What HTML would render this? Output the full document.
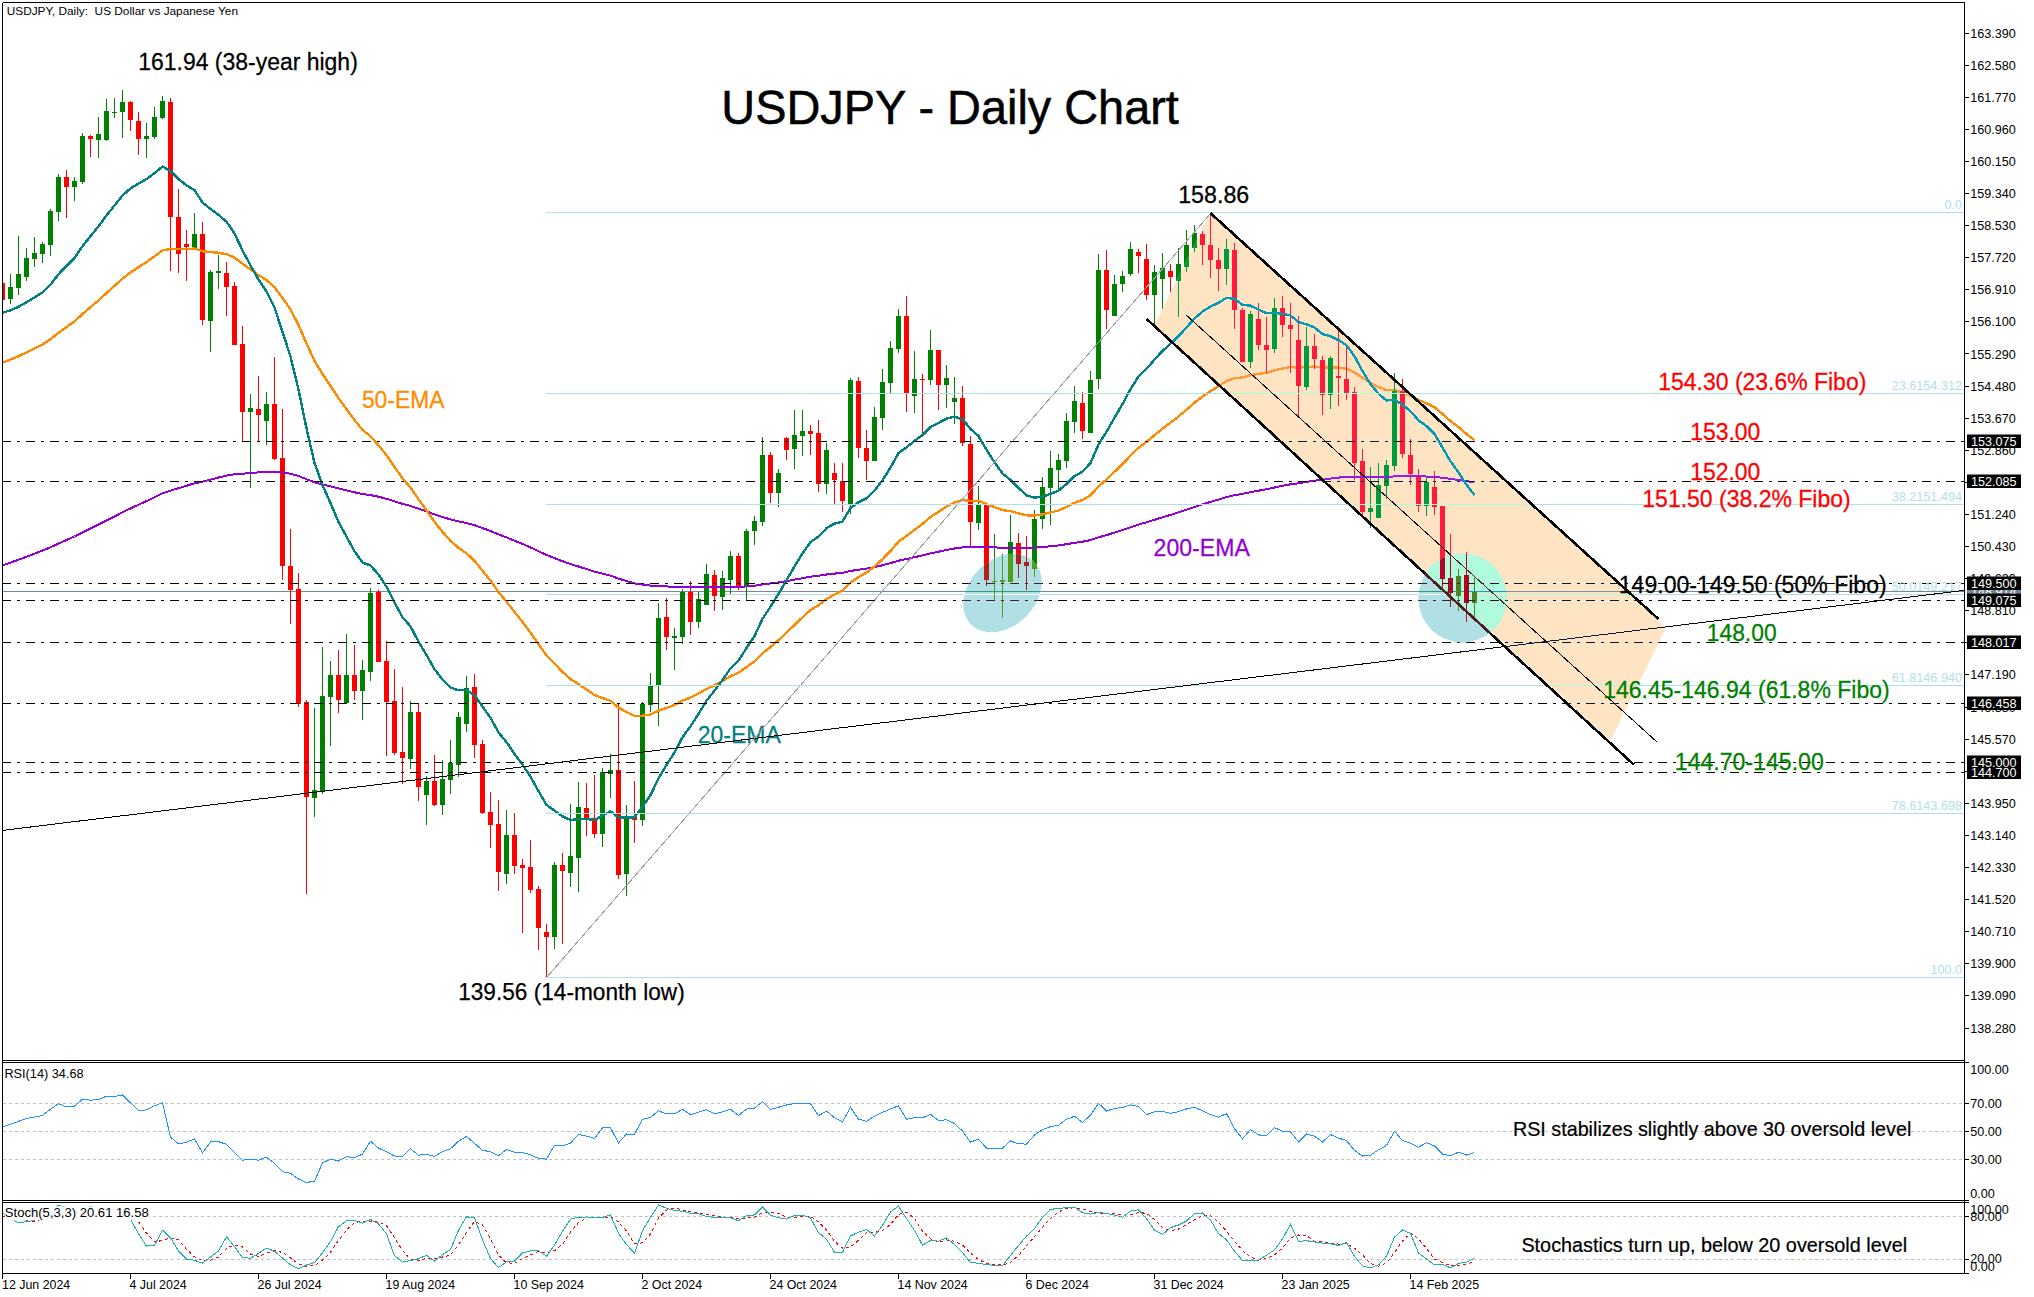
<!DOCTYPE html>
<html><head><meta charset="utf-8"><title>USDJPY - Daily Chart</title>
<style>html,body{margin:0;padding:0;background:#fff}svg{display:block}</style></head>
<body>
<svg width="2034" height="1297" viewBox="0 0 2034 1297" font-family="'Liberation Sans', sans-serif">
<defs>
<clipPath id="cpMain"><rect x="3" y="3" width="1961" height="1057"/></clipPath>
<clipPath id="cpCh"><polygon points="1210.3,213.0 1666.0,627.8 1610.5,740.5 1154.2,325.5"/></clipPath>
<clipPath id="cpE1"><ellipse cx="1002.5" cy="593.0" rx="44.4" ry="33.4" transform="rotate(-45 1002.5 593.0)"/></clipPath>
<clipPath id="cpE2"><ellipse cx="1462.5" cy="598.0" rx="44.2" ry="44.4" transform="rotate(0 1462.5 598.0)"/></clipPath>
<clipPath id="cpRsi"><rect x="3" y="1063" width="1961" height="137"/></clipPath>
<clipPath id="cpSt"><rect x="3" y="1203" width="1961" height="70"/></clipPath>
</defs>
<rect width="2034" height="1297" fill="#fff"/>
<g clip-path="url(#cpMain)">
<line x1="546" y1="594.5" x2="1964" y2="594.5" stroke="#b0e0e6" stroke-width="1" shape-rendering="crispEdges"/>
<line x1="3" y1="591.5" x2="1964" y2="591.5" stroke="#778899" stroke-width="1" shape-rendering="crispEdges"/>
<g shape-rendering="crispEdges">
<path d="M2.5 280 V303 M66.5 170 V218 M90.5 135 V157 M130.5 101 V131 M138.5 112 V155 M170.5 98 V271 M178.5 189 V273 M186.5 230 V281 M202.5 222 V325 M226.5 262 V316 M234.5 282 V345 M242.5 326 V441 M258.5 376 V441 M274.5 357 V460 M282.5 409 V580 M290.5 529 V624 M298.5 573 V707 M306.5 700 V894 M338.5 650 V713 M354.5 645 V700 M378.5 590 V662 M386.5 641 V756 M394.5 669 V755 M402.5 687 V784 M418.5 703 V801 M434.5 755 V806 M474.5 674 V758 M482.5 740 V814 M490.5 792 V848 M498.5 800 V891 M514.5 813 V874 M522.5 859 V933 M530.5 840 V893 M538.5 886 V950 M546.5 924 V977 M562.5 853 V944 M586.5 783 V836 M594.5 775 V838 M618.5 703 V879 M634.5 781 V843 M666.5 598 V650 M690.5 581 V635 M714.5 570 V611 M738.5 553 V590 M770.5 452 V503 M786.5 437 V460 M810.5 425 V455 M818.5 420 V492 M834.5 463 V504 M842.5 463 V512 M858.5 377 V458 M866.5 430 V480 M906.5 296 V412 M922.5 374 V434 M938.5 350 V410 M962.5 386 V446 M970.5 436 V546 M986.5 503 V586 M1018.5 533 V578 M1026.5 536 V590 M1082.5 392 V439 M1106.5 250 V329 M1138.5 249 V273 M1146.5 244 V300 M1170.5 264 V292 M1202.5 231 V265 M1210.5 213 V278 M1218.5 248 V291 M1234.5 243 V329 M1242.5 308 V362 M1258.5 303 V350 M1266.5 317 V373 M1282.5 296 V337 M1290.5 303 V373 M1298.5 316 V417 M1314.5 334 V369 M1322.5 356 V415 M1338.5 329 V406 M1346.5 346 V400 M1354.5 387 V480 M1362.5 449 V516 M1402.5 379 V458 M1410.5 439 V485 M1418.5 469 V512 M1434.5 471 V515 M1442.5 506 V590 M1450.5 534 V607 M1466.5 552 V622" stroke="#ff0000" stroke-width="1" fill="none"/>
<path d="M10.5 274 V304 M18.5 236 V295 M26.5 248 V281 M34.5 237 V267 M42.5 242 V263 M50.5 209 V256 M58.5 174 V221 M74.5 177 V201 M82.5 133 V184 M98.5 117 V158 M106.5 99 V141 M114.5 98 V118 M122.5 90 V138 M146.5 123 V158 M154.5 107 V139 M162.5 96 V119 M194.5 213 V248 M210.5 270 V352 M218.5 255 V289 M250.5 394 V488 M266.5 392 V445 M314.5 708 V817 M322.5 647 V794 M330.5 661 V746 M346.5 634 V703 M362.5 660 V720 M370.5 588 V681 M410.5 701 V769 M426.5 776 V825 M442.5 760 V815 M450.5 740 V794 M458.5 712 V777 M466.5 676 V732 M506.5 810 V884 M554.5 862 V949 M570.5 804 V887 M578.5 782 V892 M602.5 768 V847 M610.5 754 V798 M626.5 805 V896 M642.5 702 V826 M650.5 673 V712 M658.5 603 V726 M674.5 628 V670 M682.5 589 V644 M698.5 592 V628 M706.5 564 V605 M722.5 571 V610 M730.5 551 V594 M746.5 529 V601 M754.5 516 V545 M762.5 437 V526 M778.5 469 V507 M794.5 410 V469 M802.5 410 V456 M826.5 443 V494 M850.5 378 V514 M874.5 407 V461 M882.5 369 V430 M890.5 341 V393 M898.5 309 V353 M914.5 351 V413 M930.5 330 V385 M946.5 365 V408 M954.5 377 V424 M978.5 486 V530 M994.5 534 V601 M1002.5 554 V618 M1010.5 515 V582 M1034.5 510 V577 M1042.5 477 V529 M1050.5 451 V525 M1058.5 454 V491 M1066.5 413 V468 M1074.5 386 V433 M1090.5 371 V433 M1098.5 254 V389 M1114.5 275 V316 M1122.5 271 V292 M1130.5 242 V276 M1154.5 265 V324 M1162.5 253 V309 M1178.5 248 V317 M1186.5 230 V272 M1194.5 225 V252 M1226.5 239 V285 M1250.5 311 V368 M1274.5 298 V353 M1306.5 327 V390 M1330.5 356 V409 M1370.5 467 V528 M1378.5 463 V518 M1386.5 460 V499 M1394.5 373 V471 M1426.5 477 V516 M1458.5 569 V611 M1474.5 578 V618" stroke="#008000" stroke-width="1" fill="none"/>
<path d="M0.0 283 h5 V300 h-5 Z M64.0 177 h5 V187 h-5 Z M88.0 136 h5 V139 h-5 Z M128.0 102 h5 V120 h-5 Z M136.0 121 h5 V139 h-5 Z M168.0 102 h5 V217 h-5 Z M176.0 217 h5 V254 h-5 Z M184.0 244 h5 V247 h-5 Z M200.0 234 h5 V320 h-5 Z M224.0 273 h5 V287 h-5 Z M232.0 286 h5 V345 h-5 Z M240.0 344 h5 V412 h-5 Z M256.0 409 h5 V415 h-5 Z M272.0 404 h5 V459 h-5 Z M280.0 458 h5 V566 h-5 Z M288.0 566 h5 V590 h-5 Z M296.0 589 h5 V704 h-5 Z M304.0 702 h5 V797 h-5 Z M336.0 675 h5 V700 h-5 Z M352.0 675 h5 V691 h-5 Z M376.0 592 h5 V662 h-5 Z M384.0 661 h5 V702 h-5 Z M392.0 701 h5 V753 h-5 Z M400.0 752 h5 V758 h-5 Z M416.0 712 h5 V787 h-5 Z M432.0 781 h5 V805 h-5 Z M472.0 687 h5 V745 h-5 Z M480.0 744 h5 V813 h-5 Z M488.0 812 h5 V825 h-5 Z M496.0 824 h5 V872 h-5 Z M512.0 835 h5 V866 h-5 Z M520.0 865 h5 V868 h-5 Z M528.0 867 h5 V890 h-5 Z M536.0 889 h5 V928 h-5 Z M544.0 932 h5 V937 h-5 Z M560.0 865 h5 V871 h-5 Z M584.0 808 h5 V819 h-5 Z M592.0 818 h5 V834 h-5 Z M616.0 770 h5 V875 h-5 Z M632.0 816 h5 V820 h-5 Z M664.0 617 h5 V637 h-5 Z M688.0 592 h5 V622 h-5 Z M712.0 575 h5 V596 h-5 Z M736.0 556 h5 V587 h-5 Z M768.0 455 h5 V493 h-5 Z M784.0 438 h5 V450 h-5 Z M808.0 431 h5 V434 h-5 Z M816.0 433 h5 V484 h-5 Z M832.0 473 h5 V480 h-5 Z M840.0 481 h5 V501 h-5 Z M856.0 381 h5 V448 h-5 Z M864.0 448 h5 V461 h-5 Z M904.0 316 h5 V393 h-5 Z M920.0 379 h5 V380 h-5 Z M936.0 350 h5 V385 h-5 Z M960.0 398 h5 V443 h-5 Z M968.0 444 h5 V522 h-5 Z M984.0 504 h5 V580 h-5 Z M1016.0 543 h5 V564 h-5 Z M1024.0 562 h5 V566 h-5 Z M1080.0 403 h5 V431 h-5 Z M1104.0 270 h5 V310 h-5 Z M1136.0 252 h5 V256 h-5 Z M1144.0 259 h5 V295 h-5 Z M1168.0 271 h5 V277 h-5 Z M1200.0 234 h5 V245 h-5 Z M1208.0 245 h5 V260 h-5 Z M1216.0 260 h5 V269 h-5 Z M1232.0 250 h5 V310 h-5 Z M1240.0 310 h5 V362 h-5 Z M1256.0 319 h5 V345 h-5 Z M1264.0 345 h5 V350 h-5 Z M1280.0 308 h5 V325 h-5 Z M1288.0 325 h5 V329 h-5 Z M1296.0 340 h5 V386 h-5 Z M1312.0 346 h5 V359 h-5 Z M1320.0 360 h5 V395 h-5 Z M1336.0 376 h5 V378 h-5 Z M1344.0 379 h5 V393 h-5 Z M1352.0 392 h5 V463 h-5 Z M1360.0 461 h5 V512 h-5 Z M1400.0 391 h5 V454 h-5 Z M1408.0 455 h5 V474 h-5 Z M1416.0 476 h5 V506 h-5 Z M1432.0 487 h5 V507 h-5 Z M1440.0 506 h5 V579 h-5 Z M1448.0 578 h5 V593 h-5 Z M1464.0 575 h5 V603 h-5 Z" fill="#ff0000"/>
<path d="M8.0 287 h5 V299 h-5 Z M16.0 274 h5 V288 h-5 Z M24.0 258 h5 V277 h-5 Z M32.0 253 h5 V259 h-5 Z M40.0 244 h5 V254 h-5 Z M48.0 211 h5 V245 h-5 Z M56.0 177 h5 V212 h-5 Z M72.0 181 h5 V187 h-5 Z M80.0 136 h5 V182 h-5 Z M96.0 134 h5 V140 h-5 Z M104.0 111 h5 V140 h-5 Z M112.0 112 h5 V113 h-5 Z M120.0 102 h5 V112 h-5 Z M144.0 136 h5 V139 h-5 Z M152.0 117 h5 V137 h-5 Z M160.0 101 h5 V118 h-5 Z M192.0 234 h5 V248 h-5 Z M208.0 272 h5 V321 h-5 Z M216.0 271 h5 V273 h-5 Z M248.0 408 h5 V412 h-5 Z M264.0 404 h5 V421 h-5 Z M312.0 790 h5 V798 h-5 Z M320.0 696 h5 V792 h-5 Z M328.0 675 h5 V697 h-5 Z M344.0 675 h5 V703 h-5 Z M360.0 670 h5 V691 h-5 Z M368.0 593 h5 V672 h-5 Z M408.0 712 h5 V759 h-5 Z M424.0 781 h5 V795 h-5 Z M440.0 779 h5 V805 h-5 Z M448.0 763 h5 V780 h-5 Z M456.0 717 h5 V765 h-5 Z M464.0 688 h5 V724 h-5 Z M504.0 835 h5 V874 h-5 Z M552.0 865 h5 V937 h-5 Z M568.0 856 h5 V873 h-5 Z M576.0 807 h5 V858 h-5 Z M600.0 772 h5 V834 h-5 Z M608.0 770 h5 V774 h-5 Z M624.0 817 h5 V874 h-5 Z M640.0 704 h5 V820 h-5 Z M648.0 686 h5 V705 h-5 Z M656.0 618 h5 V686 h-5 Z M672.0 636 h5 V638 h-5 Z M680.0 592 h5 V637 h-5 Z M696.0 599 h5 V622 h-5 Z M704.0 574 h5 V605 h-5 Z M720.0 578 h5 V597 h-5 Z M728.0 556 h5 V580 h-5 Z M744.0 531 h5 V587 h-5 Z M752.0 521 h5 V531 h-5 Z M760.0 455 h5 V522 h-5 Z M776.0 473 h5 V493 h-5 Z M792.0 435 h5 V449 h-5 Z M800.0 431 h5 V436 h-5 Z M824.0 450 h5 V484 h-5 Z M848.0 380 h5 V504 h-5 Z M872.0 417 h5 V461 h-5 Z M880.0 382 h5 V418 h-5 Z M888.0 348 h5 V383 h-5 Z M896.0 316 h5 V349 h-5 Z M912.0 379 h5 V396 h-5 Z M928.0 350 h5 V380 h-5 Z M944.0 378 h5 V385 h-5 Z M952.0 398 h5 V402 h-5 Z M976.0 504 h5 V523 h-5 Z M992.0 581 h5 V582 h-5 Z M1000.0 580 h5 V582 h-5 Z M1008.0 542 h5 V582 h-5 Z M1032.0 519 h5 V569 h-5 Z M1040.0 487 h5 V519 h-5 Z M1048.0 468 h5 V488 h-5 Z M1056.0 460 h5 V470 h-5 Z M1064.0 421 h5 V461 h-5 Z M1072.0 401 h5 V422 h-5 Z M1088.0 380 h5 V433 h-5 Z M1096.0 270 h5 V379 h-5 Z M1112.0 284 h5 V316 h-5 Z M1120.0 276 h5 V284 h-5 Z M1128.0 249 h5 V274 h-5 Z M1152.0 272 h5 V295 h-5 Z M1160.0 268 h5 V279 h-5 Z M1176.0 264 h5 V281 h-5 Z M1184.0 245 h5 V267 h-5 Z M1192.0 233 h5 V248 h-5 Z M1224.0 249 h5 V269 h-5 Z M1248.0 314 h5 V362 h-5 Z M1272.0 308 h5 V349 h-5 Z M1304.0 346 h5 V387 h-5 Z M1328.0 358 h5 V395 h-5 Z M1368.0 508 h5 V512 h-5 Z M1376.0 485 h5 V518 h-5 Z M1384.0 465 h5 V486 h-5 Z M1392.0 391 h5 V466 h-5 Z M1424.0 482 h5 V506 h-5 Z M1456.0 576 h5 V596 h-5 Z M1472.0 592 h5 V603 h-5 Z" fill="#008000"/>
</g>
<polyline points="2.5,565.4 10.5,562.6 18.5,559.8 26.5,556.8 34.5,553.7 42.5,550.6 50.5,547.3 58.5,543.6 66.5,540.0 74.5,536.5 82.5,532.5 90.5,528.6 98.5,524.6 106.5,520.5 114.5,516.5 122.5,512.3 130.5,508.4 138.5,504.7 146.5,501.1 154.5,497.3 162.5,493.3 170.5,490.6 178.5,488.2 186.5,485.8 194.5,483.3 202.5,481.7 210.5,479.6 218.5,477.5 226.5,475.6 234.5,474.3 242.5,473.7 250.5,473.0 258.5,472.4 266.5,471.8 274.5,471.6 282.5,472.6 290.5,473.7 298.5,476.0 306.5,479.2 314.5,482.3 322.5,484.4 330.5,486.3 338.5,488.4 346.5,490.3 354.5,492.3 362.5,494.1 370.5,495.1 378.5,496.7 386.5,498.8 394.5,501.3 402.5,503.8 410.5,505.9 418.5,508.7 426.5,511.4 434.5,514.3 442.5,517.0 450.5,519.4 458.5,521.4 466.5,523.0 474.5,525.2 482.5,528.1 490.5,531.0 498.5,534.4 506.5,537.4 514.5,540.7 522.5,543.9 530.5,547.4 538.5,551.2 546.5,555.0 554.5,558.1 562.5,561.2 570.5,564.1 578.5,566.5 586.5,569.1 594.5,571.7 602.5,573.7 610.5,575.6 618.5,578.6 626.5,581.0 634.5,583.4 642.5,584.6 650.5,585.6 658.5,585.9 666.5,586.4 674.5,586.9 682.5,586.9 690.5,587.3 698.5,587.4 706.5,587.3 714.5,587.4 722.5,587.3 730.5,587.0 738.5,586.9 746.5,586.4 754.5,585.7 762.5,584.4 770.5,583.5 778.5,582.4 786.5,581.1 794.5,579.6 802.5,578.2 810.5,576.7 818.5,575.8 826.5,574.5 834.5,573.6 842.5,572.9 850.5,571.0 858.5,569.7 866.5,568.6 874.5,567.1 882.5,565.3 890.5,563.1 898.5,560.7 906.5,559.0 914.5,557.2 922.5,555.4 930.5,553.4 938.5,551.7 946.5,550.0 954.5,548.5 962.5,547.4 970.5,547.2 978.5,546.7 986.5,547.1 994.5,547.4 1002.5,547.7 1010.5,547.7 1018.5,547.8 1026.5,548.0 1034.5,547.7 1042.5,547.1 1050.5,546.3 1058.5,545.5 1066.5,544.2 1074.5,542.8 1082.5,541.7 1090.5,540.1 1098.5,537.4 1106.5,535.1 1114.5,532.6 1122.5,530.1 1130.5,527.3 1138.5,524.6 1146.5,522.3 1154.5,519.8 1162.5,517.3 1170.5,514.9 1178.5,512.4 1186.5,509.7 1194.5,507.0 1202.5,504.4 1210.5,501.9 1218.5,499.6 1226.5,497.1 1234.5,495.2 1242.5,493.9 1250.5,492.1 1258.5,490.7 1266.5,489.3 1274.5,487.5 1282.5,485.8 1290.5,484.3 1298.5,483.3 1306.5,481.9 1314.5,480.7 1322.5,479.8 1330.5,478.6 1338.5,477.6 1346.5,476.8 1354.5,476.6 1362.5,477.0 1370.5,477.3 1378.5,477.4 1386.5,477.2 1394.5,476.4 1402.5,476.2 1410.5,476.1 1418.5,476.4 1426.5,476.5 1434.5,476.8 1442.5,477.8 1450.5,478.9 1458.5,479.9 1466.5,481.1 1474.5,482.2" fill="none" stroke="#9400d3" stroke-width="2.0" stroke-linejoin="round" shape-rendering="crispEdges"/>
<polyline points="2.5,362.6 10.5,359.6 18.5,356.3 26.5,352.4 34.5,348.5 42.5,344.4 50.5,339.2 58.5,332.8 66.5,327.1 74.5,321.4 82.5,314.1 90.5,307.2 98.5,300.4 106.5,293.0 114.5,285.9 122.5,278.7 130.5,272.4 138.5,267.2 146.5,262.1 154.5,256.4 162.5,250.3 170.5,249.0 178.5,249.1 186.5,249.1 194.5,248.5 202.5,251.2 210.5,252.1 218.5,252.8 226.5,254.1 234.5,257.7 242.5,263.7 250.5,269.4 258.5,275.1 266.5,280.1 274.5,287.1 282.5,298.1 290.5,309.5 298.5,324.9 306.5,343.4 314.5,360.9 322.5,374.1 330.5,385.9 338.5,398.2 346.5,409.1 354.5,420.1 362.5,429.9 370.5,436.3 378.5,445.2 386.5,455.2 394.5,466.9 402.5,478.3 410.5,487.5 418.5,499.2 426.5,510.3 434.5,521.8 442.5,531.9 450.5,540.9 458.5,547.8 466.5,553.4 474.5,560.8 482.5,570.7 490.5,580.7 498.5,592.1 506.5,601.6 514.5,612.0 522.5,622.0 530.5,632.5 538.5,644.1 546.5,655.5 554.5,663.7 562.5,671.9 570.5,679.1 578.5,684.1 586.5,689.4 594.5,695.0 602.5,698.0 610.5,700.9 618.5,707.7 626.5,712.0 634.5,716.2 642.5,715.7 650.5,714.5 658.5,710.8 666.5,707.9 674.5,705.0 682.5,700.6 690.5,697.5 698.5,693.6 706.5,688.9 714.5,685.3 722.5,681.1 730.5,676.2 738.5,672.7 746.5,667.1 754.5,661.4 762.5,653.3 770.5,647.0 778.5,640.2 786.5,632.7 794.5,624.9 802.5,617.3 810.5,610.1 818.5,605.2 826.5,599.1 834.5,594.4 842.5,590.7 850.5,582.4 858.5,577.2 866.5,572.6 874.5,566.5 882.5,559.3 890.5,551.0 898.5,541.7 906.5,535.9 914.5,529.8 922.5,523.9 930.5,517.0 938.5,511.9 946.5,506.6 954.5,502.4 962.5,500.0 970.5,500.9 978.5,501.0 986.5,504.1 994.5,507.1 1002.5,510.0 1010.5,511.2 1018.5,513.3 1026.5,515.3 1034.5,515.5 1042.5,514.4 1050.5,512.5 1058.5,510.5 1066.5,507.0 1074.5,502.8 1082.5,500.0 1090.5,495.3 1098.5,486.4 1106.5,479.5 1114.5,471.8 1122.5,464.1 1130.5,455.7 1138.5,447.8 1146.5,441.8 1154.5,435.2 1162.5,428.6 1170.5,422.7 1178.5,416.5 1186.5,409.7 1194.5,402.8 1202.5,396.6 1210.5,391.2 1218.5,386.4 1226.5,381.0 1234.5,378.2 1242.5,377.5 1250.5,375.1 1258.5,373.9 1266.5,372.9 1274.5,370.4 1282.5,368.6 1290.5,367.0 1298.5,367.8 1306.5,366.9 1314.5,366.6 1322.5,367.7 1330.5,367.3 1338.5,367.7 1346.5,368.7 1354.5,372.4 1362.5,377.8 1370.5,382.9 1378.5,386.9 1386.5,390.0 1394.5,390.0 1402.5,392.5 1410.5,395.7 1418.5,400.0 1426.5,403.2 1434.5,407.2 1442.5,414.0 1450.5,421.0 1458.5,427.1 1466.5,434.0 1474.5,440.2" fill="none" stroke="#ff8c00" stroke-width="2.4" stroke-linejoin="round" shape-rendering="crispEdges"/>
<polyline points="2.5,312.7 10.5,310.3 18.5,306.8 26.5,302.2 34.5,297.5 42.5,292.3 50.5,284.6 58.5,274.3 66.5,266.0 74.5,257.9 82.5,246.3 90.5,236.1 98.5,226.4 106.5,215.4 114.5,205.5 122.5,195.6 130.5,188.4 138.5,183.7 146.5,179.1 154.5,173.2 162.5,166.4 170.5,171.1 178.5,179.0 186.5,185.4 194.5,190.1 202.5,202.4 210.5,209.0 218.5,214.9 226.5,221.7 234.5,233.4 242.5,250.4 250.5,265.4 258.5,279.6 266.5,291.5 274.5,307.4 282.5,332.0 290.5,356.5 298.5,389.6 306.5,428.3 314.5,462.8 322.5,485.0 330.5,503.1 338.5,521.9 346.5,536.5 354.5,551.2 362.5,562.5 370.5,565.4 378.5,574.6 386.5,586.7 394.5,602.5 402.5,617.3 410.5,626.3 418.5,641.6 426.5,654.9 434.5,669.2 442.5,679.6 450.5,687.5 458.5,690.3 466.5,690.1 474.5,695.3 482.5,706.5 490.5,717.8 498.5,732.4 506.5,742.2 514.5,753.9 522.5,764.7 530.5,776.6 538.5,791.0 546.5,804.9 554.5,810.6 562.5,816.3 570.5,820.1 578.5,818.9 586.5,818.8 594.5,820.2 602.5,815.6 610.5,811.3 618.5,817.3 626.5,817.3 634.5,817.5 642.5,806.7 650.5,795.2 658.5,778.3 666.5,764.9 674.5,752.6 682.5,737.3 690.5,726.3 698.5,714.1 706.5,700.8 714.5,690.8 722.5,680.1 730.5,668.3 738.5,660.5 746.5,648.2 754.5,636.1 762.5,618.8 770.5,606.8 778.5,594.0 786.5,580.3 794.5,566.4 802.5,553.5 810.5,542.1 818.5,536.5 826.5,528.2 834.5,523.6 842.5,521.5 850.5,508.0 858.5,502.2 866.5,498.3 874.5,490.5 882.5,480.2 890.5,467.6 898.5,453.1 906.5,447.4 914.5,440.9 922.5,435.1 930.5,427.0 938.5,422.9 946.5,418.7 954.5,416.7 962.5,419.2 970.5,428.9 978.5,436.1 986.5,449.8 994.5,462.3 1002.5,473.5 1010.5,480.0 1018.5,488.0 1026.5,495.4 1034.5,497.6 1042.5,496.6 1050.5,493.9 1058.5,490.7 1066.5,484.0 1074.5,476.1 1082.5,471.8 1090.5,463.0 1098.5,444.6 1106.5,431.8 1114.5,417.7 1122.5,404.1 1130.5,389.3 1138.5,376.6 1146.5,368.8 1154.5,359.6 1162.5,350.9 1170.5,343.8 1178.5,336.2 1186.5,327.5 1194.5,318.5 1202.5,311.5 1210.5,306.5 1218.5,302.9 1226.5,297.8 1234.5,298.8 1242.5,304.8 1250.5,305.7 1258.5,309.5 1266.5,313.3 1274.5,312.8 1282.5,313.9 1290.5,315.4 1298.5,322.1 1306.5,324.3 1314.5,327.6 1322.5,334.0 1330.5,336.2 1338.5,340.2 1346.5,345.2 1354.5,356.3 1362.5,371.1 1370.5,384.1 1378.5,393.7 1386.5,400.5 1394.5,399.6 1402.5,404.7 1410.5,411.3 1418.5,420.3 1426.5,426.1 1434.5,433.8 1442.5,447.6 1450.5,461.4 1458.5,472.4 1466.5,484.8 1474.5,495.0" fill="none" stroke="#008080" stroke-width="2.4" stroke-linejoin="round" shape-rendering="crispEdges"/>
<line x1="547" y1="977" x2="1211" y2="213" stroke="#a0a0a0" stroke-width="1" shape-rendering="crispEdges"/>
<line x1="546" y1="212.5" x2="1964" y2="212.5" stroke="#b0e0e6" stroke-width="1" shape-rendering="crispEdges"/>
<line x1="546" y1="393.5" x2="1964" y2="393.5" stroke="#b0e0e6" stroke-width="1" shape-rendering="crispEdges"/>
<line x1="546" y1="504.5" x2="1964" y2="504.5" stroke="#b0e0e6" stroke-width="1" shape-rendering="crispEdges"/>
<line x1="546" y1="685.5" x2="1964" y2="685.5" stroke="#b0e0e6" stroke-width="1" shape-rendering="crispEdges"/>
<line x1="546" y1="813.5" x2="1964" y2="813.5" stroke="#b0e0e6" stroke-width="1" shape-rendering="crispEdges"/>
<line x1="546" y1="977.5" x2="1964" y2="977.5" stroke="#b0e0e6" stroke-width="1" shape-rendering="crispEdges"/>
<line x1="2" y1="441.5" x2="1964" y2="441.5" stroke="#000000" stroke-width="1" stroke-dasharray="9 6 3 6" shape-rendering="crispEdges"/>
<line x1="2" y1="481.5" x2="1964" y2="481.5" stroke="#000000" stroke-width="1" stroke-dasharray="9 6 3 6" shape-rendering="crispEdges"/>
<line x1="2" y1="583.5" x2="1964" y2="583.5" stroke="#000000" stroke-width="1" stroke-dasharray="9 6 3 6" shape-rendering="crispEdges"/>
<line x1="2" y1="600.5" x2="1964" y2="600.5" stroke="#000000" stroke-width="1" stroke-dasharray="9 6 3 6" shape-rendering="crispEdges"/>
<line x1="2" y1="642.5" x2="1964" y2="642.5" stroke="#000000" stroke-width="1" stroke-dasharray="9 6 3 6" shape-rendering="crispEdges"/>
<line x1="2" y1="703.5" x2="1964" y2="703.5" stroke="#000000" stroke-width="1" stroke-dasharray="9 6 3 6" shape-rendering="crispEdges"/>
<line x1="2" y1="762.5" x2="1964" y2="762.5" stroke="#000000" stroke-width="1" stroke-dasharray="9 6 3 6" shape-rendering="crispEdges"/>
<line x1="2" y1="772.5" x2="1964" y2="772.5" stroke="#000000" stroke-width="1" stroke-dasharray="9 6 3 6" shape-rendering="crispEdges"/>
<line x1="2" y1="830.5" x2="1964" y2="590.4" stroke="#000000" stroke-width="1" shape-rendering="crispEdges"/>
<g clip-path="url(#cpCh)"><rect x="1140" y="200" width="540" height="560" fill="#ffe4c4"/>
<line x1="546" y1="594.5" x2="1964" y2="594.5" stroke="#b0fbdd" stroke-width="1" shape-rendering="crispEdges"/>
<line x1="3" y1="591.5" x2="1964" y2="591.5" stroke="#7793a2" stroke-width="1" shape-rendering="crispEdges"/>
<polyline points="2.5,362.6 10.5,359.6 18.5,356.3 26.5,352.4 34.5,348.5 42.5,344.4 50.5,339.2 58.5,332.8 66.5,327.1 74.5,321.4 82.5,314.1 90.5,307.2 98.5,300.4 106.5,293.0 114.5,285.9 122.5,278.7 130.5,272.4 138.5,267.2 146.5,262.1 154.5,256.4 162.5,250.3 170.5,249.0 178.5,249.1 186.5,249.1 194.5,248.5 202.5,251.2 210.5,252.1 218.5,252.8 226.5,254.1 234.5,257.7 242.5,263.7 250.5,269.4 258.5,275.1 266.5,280.1 274.5,287.1 282.5,298.1 290.5,309.5 298.5,324.9 306.5,343.4 314.5,360.9 322.5,374.1 330.5,385.9 338.5,398.2 346.5,409.1 354.5,420.1 362.5,429.9 370.5,436.3 378.5,445.2 386.5,455.2 394.5,466.9 402.5,478.3 410.5,487.5 418.5,499.2 426.5,510.3 434.5,521.8 442.5,531.9 450.5,540.9 458.5,547.8 466.5,553.4 474.5,560.8 482.5,570.7 490.5,580.7 498.5,592.1 506.5,601.6 514.5,612.0 522.5,622.0 530.5,632.5 538.5,644.1 546.5,655.5 554.5,663.7 562.5,671.9 570.5,679.1 578.5,684.1 586.5,689.4 594.5,695.0 602.5,698.0 610.5,700.9 618.5,707.7 626.5,712.0 634.5,716.2 642.5,715.7 650.5,714.5 658.5,710.8 666.5,707.9 674.5,705.0 682.5,700.6 690.5,697.5 698.5,693.6 706.5,688.9 714.5,685.3 722.5,681.1 730.5,676.2 738.5,672.7 746.5,667.1 754.5,661.4 762.5,653.3 770.5,647.0 778.5,640.2 786.5,632.7 794.5,624.9 802.5,617.3 810.5,610.1 818.5,605.2 826.5,599.1 834.5,594.4 842.5,590.7 850.5,582.4 858.5,577.2 866.5,572.6 874.5,566.5 882.5,559.3 890.5,551.0 898.5,541.7 906.5,535.9 914.5,529.8 922.5,523.9 930.5,517.0 938.5,511.9 946.5,506.6 954.5,502.4 962.5,500.0 970.5,500.9 978.5,501.0 986.5,504.1 994.5,507.1 1002.5,510.0 1010.5,511.2 1018.5,513.3 1026.5,515.3 1034.5,515.5 1042.5,514.4 1050.5,512.5 1058.5,510.5 1066.5,507.0 1074.5,502.8 1082.5,500.0 1090.5,495.3 1098.5,486.4 1106.5,479.5 1114.5,471.8 1122.5,464.1 1130.5,455.7 1138.5,447.8 1146.5,441.8 1154.5,435.2 1162.5,428.6 1170.5,422.7 1178.5,416.5 1186.5,409.7 1194.5,402.8 1202.5,396.6 1210.5,391.2 1218.5,386.4 1226.5,381.0 1234.5,378.2 1242.5,377.5 1250.5,375.1 1258.5,373.9 1266.5,372.9 1274.5,370.4 1282.5,368.6 1290.5,367.0 1298.5,367.8 1306.5,366.9 1314.5,366.6 1322.5,367.7 1330.5,367.3 1338.5,367.7 1346.5,368.7 1354.5,372.4 1362.5,377.8 1370.5,382.9 1378.5,386.9 1386.5,390.0 1394.5,390.0 1402.5,392.5 1410.5,395.7 1418.5,400.0 1426.5,403.2 1434.5,407.2 1442.5,414.0 1450.5,421.0 1458.5,427.1 1466.5,434.0 1474.5,440.2" fill="none" stroke="#ff973b" stroke-width="2.4" stroke-linejoin="round" shape-rendering="crispEdges"/>
<g shape-rendering="crispEdges">
<path d="M1138.5 249 V273 M1146.5 244 V300 M1170.5 264 V292 M1202.5 231 V265 M1210.5 213 V278 M1218.5 248 V291 M1234.5 243 V329 M1242.5 308 V362 M1258.5 303 V350 M1266.5 317 V373 M1282.5 296 V337 M1290.5 303 V373 M1298.5 316 V417 M1314.5 334 V369 M1322.5 356 V415 M1338.5 329 V406 M1346.5 346 V400 M1354.5 387 V480 M1362.5 449 V516 M1402.5 379 V458 M1410.5 439 V485 M1418.5 469 V512 M1434.5 471 V515 M1442.5 506 V590 M1450.5 534 V607 M1466.5 552 V622" stroke="#ff1b3b" stroke-width="1" fill="none"/>
<path d="M1154.5 265 V324 M1162.5 253 V309 M1178.5 248 V317 M1186.5 230 V272 M1194.5 225 V252 M1226.5 239 V285 M1250.5 311 V368 M1274.5 298 V353 M1306.5 327 V390 M1330.5 356 V409 M1370.5 467 V528 M1378.5 463 V518 M1386.5 460 V499 M1394.5 373 V471 M1426.5 477 V516 M1458.5 569 V611 M1474.5 578 V618" stroke="#009b3b" stroke-width="1" fill="none"/>
<path d="M1136.0 252 h5 V256 h-5 Z M1144.0 259 h5 V295 h-5 Z M1168.0 271 h5 V277 h-5 Z M1200.0 234 h5 V245 h-5 Z M1208.0 245 h5 V260 h-5 Z M1216.0 260 h5 V269 h-5 Z M1232.0 250 h5 V310 h-5 Z M1240.0 310 h5 V362 h-5 Z M1256.0 319 h5 V345 h-5 Z M1264.0 345 h5 V350 h-5 Z M1280.0 308 h5 V325 h-5 Z M1288.0 325 h5 V329 h-5 Z M1296.0 340 h5 V386 h-5 Z M1312.0 346 h5 V359 h-5 Z M1320.0 360 h5 V395 h-5 Z M1336.0 376 h5 V378 h-5 Z M1344.0 379 h5 V393 h-5 Z M1352.0 392 h5 V463 h-5 Z M1360.0 461 h5 V512 h-5 Z M1400.0 391 h5 V454 h-5 Z M1408.0 455 h5 V474 h-5 Z M1416.0 476 h5 V506 h-5 Z M1432.0 487 h5 V507 h-5 Z M1440.0 506 h5 V579 h-5 Z M1448.0 578 h5 V593 h-5 Z M1464.0 575 h5 V603 h-5 Z" fill="#ff1b3b"/>
<path d="M1152.0 272 h5 V295 h-5 Z M1160.0 268 h5 V279 h-5 Z M1176.0 264 h5 V281 h-5 Z M1184.0 245 h5 V267 h-5 Z M1192.0 233 h5 V248 h-5 Z M1224.0 249 h5 V269 h-5 Z M1248.0 314 h5 V362 h-5 Z M1272.0 308 h5 V349 h-5 Z M1304.0 346 h5 V387 h-5 Z M1328.0 358 h5 V395 h-5 Z M1368.0 508 h5 V512 h-5 Z M1376.0 485 h5 V518 h-5 Z M1384.0 465 h5 V486 h-5 Z M1392.0 391 h5 V466 h-5 Z M1424.0 482 h5 V506 h-5 Z M1456.0 576 h5 V596 h-5 Z M1472.0 592 h5 V603 h-5 Z" fill="#009b3b"/>
</g>
<polyline points="2.5,565.4 10.5,562.6 18.5,559.8 26.5,556.8 34.5,553.7 42.5,550.6 50.5,547.3 58.5,543.6 66.5,540.0 74.5,536.5 82.5,532.5 90.5,528.6 98.5,524.6 106.5,520.5 114.5,516.5 122.5,512.3 130.5,508.4 138.5,504.7 146.5,501.1 154.5,497.3 162.5,493.3 170.5,490.6 178.5,488.2 186.5,485.8 194.5,483.3 202.5,481.7 210.5,479.6 218.5,477.5 226.5,475.6 234.5,474.3 242.5,473.7 250.5,473.0 258.5,472.4 266.5,471.8 274.5,471.6 282.5,472.6 290.5,473.7 298.5,476.0 306.5,479.2 314.5,482.3 322.5,484.4 330.5,486.3 338.5,488.4 346.5,490.3 354.5,492.3 362.5,494.1 370.5,495.1 378.5,496.7 386.5,498.8 394.5,501.3 402.5,503.8 410.5,505.9 418.5,508.7 426.5,511.4 434.5,514.3 442.5,517.0 450.5,519.4 458.5,521.4 466.5,523.0 474.5,525.2 482.5,528.1 490.5,531.0 498.5,534.4 506.5,537.4 514.5,540.7 522.5,543.9 530.5,547.4 538.5,551.2 546.5,555.0 554.5,558.1 562.5,561.2 570.5,564.1 578.5,566.5 586.5,569.1 594.5,571.7 602.5,573.7 610.5,575.6 618.5,578.6 626.5,581.0 634.5,583.4 642.5,584.6 650.5,585.6 658.5,585.9 666.5,586.4 674.5,586.9 682.5,586.9 690.5,587.3 698.5,587.4 706.5,587.3 714.5,587.4 722.5,587.3 730.5,587.0 738.5,586.9 746.5,586.4 754.5,585.7 762.5,584.4 770.5,583.5 778.5,582.4 786.5,581.1 794.5,579.6 802.5,578.2 810.5,576.7 818.5,575.8 826.5,574.5 834.5,573.6 842.5,572.9 850.5,571.0 858.5,569.7 866.5,568.6 874.5,567.1 882.5,565.3 890.5,563.1 898.5,560.7 906.5,559.0 914.5,557.2 922.5,555.4 930.5,553.4 938.5,551.7 946.5,550.0 954.5,548.5 962.5,547.4 970.5,547.2 978.5,546.7 986.5,547.1 994.5,547.4 1002.5,547.7 1010.5,547.7 1018.5,547.8 1026.5,548.0 1034.5,547.7 1042.5,547.1 1050.5,546.3 1058.5,545.5 1066.5,544.2 1074.5,542.8 1082.5,541.7 1090.5,540.1 1098.5,537.4 1106.5,535.1 1114.5,532.6 1122.5,530.1 1130.5,527.3 1138.5,524.6 1146.5,522.3 1154.5,519.8 1162.5,517.3 1170.5,514.9 1178.5,512.4 1186.5,509.7 1194.5,507.0 1202.5,504.4 1210.5,501.9 1218.5,499.6 1226.5,497.1 1234.5,495.2 1242.5,493.9 1250.5,492.1 1258.5,490.7 1266.5,489.3 1274.5,487.5 1282.5,485.8 1290.5,484.3 1298.5,483.3 1306.5,481.9 1314.5,480.7 1322.5,479.8 1330.5,478.6 1338.5,477.6 1346.5,476.8 1354.5,476.6 1362.5,477.0 1370.5,477.3 1378.5,477.4 1386.5,477.2 1394.5,476.4 1402.5,476.2 1410.5,476.1 1418.5,476.4 1426.5,476.5 1434.5,476.8 1442.5,477.8 1450.5,478.9 1458.5,479.9 1466.5,481.1 1474.5,482.2" fill="none" stroke="#941be8" stroke-width="2.0" stroke-linejoin="round" shape-rendering="crispEdges"/>
<polyline points="2.5,312.7 10.5,310.3 18.5,306.8 26.5,302.2 34.5,297.5 42.5,292.3 50.5,284.6 58.5,274.3 66.5,266.0 74.5,257.9 82.5,246.3 90.5,236.1 98.5,226.4 106.5,215.4 114.5,205.5 122.5,195.6 130.5,188.4 138.5,183.7 146.5,179.1 154.5,173.2 162.5,166.4 170.5,171.1 178.5,179.0 186.5,185.4 194.5,190.1 202.5,202.4 210.5,209.0 218.5,214.9 226.5,221.7 234.5,233.4 242.5,250.4 250.5,265.4 258.5,279.6 266.5,291.5 274.5,307.4 282.5,332.0 290.5,356.5 298.5,389.6 306.5,428.3 314.5,462.8 322.5,485.0 330.5,503.1 338.5,521.9 346.5,536.5 354.5,551.2 362.5,562.5 370.5,565.4 378.5,574.6 386.5,586.7 394.5,602.5 402.5,617.3 410.5,626.3 418.5,641.6 426.5,654.9 434.5,669.2 442.5,679.6 450.5,687.5 458.5,690.3 466.5,690.1 474.5,695.3 482.5,706.5 490.5,717.8 498.5,732.4 506.5,742.2 514.5,753.9 522.5,764.7 530.5,776.6 538.5,791.0 546.5,804.9 554.5,810.6 562.5,816.3 570.5,820.1 578.5,818.9 586.5,818.8 594.5,820.2 602.5,815.6 610.5,811.3 618.5,817.3 626.5,817.3 634.5,817.5 642.5,806.7 650.5,795.2 658.5,778.3 666.5,764.9 674.5,752.6 682.5,737.3 690.5,726.3 698.5,714.1 706.5,700.8 714.5,690.8 722.5,680.1 730.5,668.3 738.5,660.5 746.5,648.2 754.5,636.1 762.5,618.8 770.5,606.8 778.5,594.0 786.5,580.3 794.5,566.4 802.5,553.5 810.5,542.1 818.5,536.5 826.5,528.2 834.5,523.6 842.5,521.5 850.5,508.0 858.5,502.2 866.5,498.3 874.5,490.5 882.5,480.2 890.5,467.6 898.5,453.1 906.5,447.4 914.5,440.9 922.5,435.1 930.5,427.0 938.5,422.9 946.5,418.7 954.5,416.7 962.5,419.2 970.5,428.9 978.5,436.1 986.5,449.8 994.5,462.3 1002.5,473.5 1010.5,480.0 1018.5,488.0 1026.5,495.4 1034.5,497.6 1042.5,496.6 1050.5,493.9 1058.5,490.7 1066.5,484.0 1074.5,476.1 1082.5,471.8 1090.5,463.0 1098.5,444.6 1106.5,431.8 1114.5,417.7 1122.5,404.1 1130.5,389.3 1138.5,376.6 1146.5,368.8 1154.5,359.6 1162.5,350.9 1170.5,343.8 1178.5,336.2 1186.5,327.5 1194.5,318.5 1202.5,311.5 1210.5,306.5 1218.5,302.9 1226.5,297.8 1234.5,298.8 1242.5,304.8 1250.5,305.7 1258.5,309.5 1266.5,313.3 1274.5,312.8 1282.5,313.9 1290.5,315.4 1298.5,322.1 1306.5,324.3 1314.5,327.6 1322.5,334.0 1330.5,336.2 1338.5,340.2 1346.5,345.2 1354.5,356.3 1362.5,371.1 1370.5,384.1 1378.5,393.7 1386.5,400.5 1394.5,399.6 1402.5,404.7 1410.5,411.3 1418.5,420.3 1426.5,426.1 1434.5,433.8 1442.5,447.6 1450.5,461.4 1458.5,472.4 1466.5,484.8 1474.5,495.0" fill="none" stroke="#009bbb" stroke-width="2.4" stroke-linejoin="round" shape-rendering="crispEdges"/>
<line x1="547" y1="977" x2="1211" y2="213" stroke="#a0bb9b" stroke-width="1" shape-rendering="crispEdges"/>
<line x1="546" y1="212.5" x2="1964" y2="212.5" stroke="#b0fbdd" stroke-width="1" shape-rendering="crispEdges"/>
<line x1="546" y1="393.5" x2="1964" y2="393.5" stroke="#b0fbdd" stroke-width="1" shape-rendering="crispEdges"/>
<line x1="546" y1="504.5" x2="1964" y2="504.5" stroke="#b0fbdd" stroke-width="1" shape-rendering="crispEdges"/>
<line x1="546" y1="685.5" x2="1964" y2="685.5" stroke="#b0fbdd" stroke-width="1" shape-rendering="crispEdges"/>
<line x1="546" y1="813.5" x2="1964" y2="813.5" stroke="#b0fbdd" stroke-width="1" shape-rendering="crispEdges"/>
<line x1="546" y1="977.5" x2="1964" y2="977.5" stroke="#b0fbdd" stroke-width="1" shape-rendering="crispEdges"/>
<line x1="2" y1="441.5" x2="1964" y2="441.5" stroke="#001b3b" stroke-width="1" stroke-dasharray="9 6 3 6" shape-rendering="crispEdges"/>
<line x1="2" y1="481.5" x2="1964" y2="481.5" stroke="#001b3b" stroke-width="1" stroke-dasharray="9 6 3 6" shape-rendering="crispEdges"/>
<line x1="2" y1="583.5" x2="1964" y2="583.5" stroke="#001b3b" stroke-width="1" stroke-dasharray="9 6 3 6" shape-rendering="crispEdges"/>
<line x1="2" y1="600.5" x2="1964" y2="600.5" stroke="#001b3b" stroke-width="1" stroke-dasharray="9 6 3 6" shape-rendering="crispEdges"/>
<line x1="2" y1="642.5" x2="1964" y2="642.5" stroke="#001b3b" stroke-width="1" stroke-dasharray="9 6 3 6" shape-rendering="crispEdges"/>
<line x1="2" y1="703.5" x2="1964" y2="703.5" stroke="#001b3b" stroke-width="1" stroke-dasharray="9 6 3 6" shape-rendering="crispEdges"/>
<line x1="2" y1="762.5" x2="1964" y2="762.5" stroke="#001b3b" stroke-width="1" stroke-dasharray="9 6 3 6" shape-rendering="crispEdges"/>
<line x1="2" y1="772.5" x2="1964" y2="772.5" stroke="#001b3b" stroke-width="1" stroke-dasharray="9 6 3 6" shape-rendering="crispEdges"/>
<line x1="2" y1="830.5" x2="1964" y2="590.4" stroke="#001b3b" stroke-width="1" shape-rendering="crispEdges"/>
</g>
<line x1="1210.3" y1="213.0" x2="1658.6" y2="619.2" stroke="#000000" stroke-width="2.6" shape-rendering="crispEdges"/>
<line x1="1146.7" y1="319.0" x2="1633.9" y2="764.7" stroke="#000000" stroke-width="2.6" shape-rendering="crispEdges"/>
<line x1="1185.7" y1="314.6" x2="1657.4" y2="742.4" stroke="#000000" stroke-width="1" shape-rendering="crispEdges"/>
<g clip-path="url(#cpE1)"><rect x="950" y="540" width="110" height="110" fill="#b0e0e6"/>
<line x1="546" y1="594.5" x2="1964" y2="594.5" stroke="#ffffff" stroke-width="1" shape-rendering="crispEdges"/>
<line x1="3" y1="591.5" x2="1964" y2="591.5" stroke="#389780" stroke-width="1" shape-rendering="crispEdges"/>
<g shape-rendering="crispEdges">
<path d="M962.5 386 V446 M970.5 436 V546 M986.5 503 V586 M1018.5 533 V578 M1026.5 536 V590" stroke="#b01f19" stroke-width="1" fill="none"/>
<path d="M946.5 365 V408 M954.5 377 V424 M978.5 486 V530 M994.5 534 V601 M1002.5 554 V618 M1010.5 515 V582 M1034.5 510 V577 M1042.5 477 V529 M1050.5 451 V525 M1058.5 454 V491" stroke="#4f9f19" stroke-width="1" fill="none"/>
<path d="M960.0 398 h5 V443 h-5 Z M968.0 444 h5 V522 h-5 Z M984.0 504 h5 V580 h-5 Z M1016.0 543 h5 V564 h-5 Z M1024.0 562 h5 V566 h-5 Z" fill="#b01f19"/>
<path d="M944.0 378 h5 V385 h-5 Z M952.0 398 h5 V402 h-5 Z M976.0 504 h5 V523 h-5 Z M992.0 581 h5 V582 h-5 Z M1000.0 580 h5 V582 h-5 Z M1008.0 542 h5 V582 h-5 Z M1032.0 519 h5 V569 h-5 Z M1040.0 487 h5 V519 h-5 Z M1048.0 468 h5 V488 h-5 Z M1056.0 460 h5 V470 h-5 Z" fill="#4f9f19"/>
</g>
<polyline points="2.5,565.4 10.5,562.6 18.5,559.8 26.5,556.8 34.5,553.7 42.5,550.6 50.5,547.3 58.5,543.6 66.5,540.0 74.5,536.5 82.5,532.5 90.5,528.6 98.5,524.6 106.5,520.5 114.5,516.5 122.5,512.3 130.5,508.4 138.5,504.7 146.5,501.1 154.5,497.3 162.5,493.3 170.5,490.6 178.5,488.2 186.5,485.8 194.5,483.3 202.5,481.7 210.5,479.6 218.5,477.5 226.5,475.6 234.5,474.3 242.5,473.7 250.5,473.0 258.5,472.4 266.5,471.8 274.5,471.6 282.5,472.6 290.5,473.7 298.5,476.0 306.5,479.2 314.5,482.3 322.5,484.4 330.5,486.3 338.5,488.4 346.5,490.3 354.5,492.3 362.5,494.1 370.5,495.1 378.5,496.7 386.5,498.8 394.5,501.3 402.5,503.8 410.5,505.9 418.5,508.7 426.5,511.4 434.5,514.3 442.5,517.0 450.5,519.4 458.5,521.4 466.5,523.0 474.5,525.2 482.5,528.1 490.5,531.0 498.5,534.4 506.5,537.4 514.5,540.7 522.5,543.9 530.5,547.4 538.5,551.2 546.5,555.0 554.5,558.1 562.5,561.2 570.5,564.1 578.5,566.5 586.5,569.1 594.5,571.7 602.5,573.7 610.5,575.6 618.5,578.6 626.5,581.0 634.5,583.4 642.5,584.6 650.5,585.6 658.5,585.9 666.5,586.4 674.5,586.9 682.5,586.9 690.5,587.3 698.5,587.4 706.5,587.3 714.5,587.4 722.5,587.3 730.5,587.0 738.5,586.9 746.5,586.4 754.5,585.7 762.5,584.4 770.5,583.5 778.5,582.4 786.5,581.1 794.5,579.6 802.5,578.2 810.5,576.7 818.5,575.8 826.5,574.5 834.5,573.6 842.5,572.9 850.5,571.0 858.5,569.7 866.5,568.6 874.5,567.1 882.5,565.3 890.5,563.1 898.5,560.7 906.5,559.0 914.5,557.2 922.5,555.4 930.5,553.4 938.5,551.7 946.5,550.0 954.5,548.5 962.5,547.4 970.5,547.2 978.5,546.7 986.5,547.1 994.5,547.4 1002.5,547.7 1010.5,547.7 1018.5,547.8 1026.5,548.0 1034.5,547.7 1042.5,547.1 1050.5,546.3 1058.5,545.5 1066.5,544.2 1074.5,542.8 1082.5,541.7 1090.5,540.1 1098.5,537.4 1106.5,535.1 1114.5,532.6 1122.5,530.1 1130.5,527.3 1138.5,524.6 1146.5,522.3 1154.5,519.8 1162.5,517.3 1170.5,514.9 1178.5,512.4 1186.5,509.7 1194.5,507.0 1202.5,504.4 1210.5,501.9 1218.5,499.6 1226.5,497.1 1234.5,495.2 1242.5,493.9 1250.5,492.1 1258.5,490.7 1266.5,489.3 1274.5,487.5 1282.5,485.8 1290.5,484.3 1298.5,483.3 1306.5,481.9 1314.5,480.7 1322.5,479.8 1330.5,478.6 1338.5,477.6 1346.5,476.8 1354.5,476.6 1362.5,477.0 1370.5,477.3 1378.5,477.4 1386.5,477.2 1394.5,476.4 1402.5,476.2 1410.5,476.1 1418.5,476.4 1426.5,476.5 1434.5,476.8 1442.5,477.8 1450.5,478.9 1458.5,479.9 1466.5,481.1 1474.5,482.2" fill="none" stroke="#db1fca" stroke-width="2.0" stroke-linejoin="round" shape-rendering="crispEdges"/>
<polyline points="2.5,362.6 10.5,359.6 18.5,356.3 26.5,352.4 34.5,348.5 42.5,344.4 50.5,339.2 58.5,332.8 66.5,327.1 74.5,321.4 82.5,314.1 90.5,307.2 98.5,300.4 106.5,293.0 114.5,285.9 122.5,278.7 130.5,272.4 138.5,267.2 146.5,262.1 154.5,256.4 162.5,250.3 170.5,249.0 178.5,249.1 186.5,249.1 194.5,248.5 202.5,251.2 210.5,252.1 218.5,252.8 226.5,254.1 234.5,257.7 242.5,263.7 250.5,269.4 258.5,275.1 266.5,280.1 274.5,287.1 282.5,298.1 290.5,309.5 298.5,324.9 306.5,343.4 314.5,360.9 322.5,374.1 330.5,385.9 338.5,398.2 346.5,409.1 354.5,420.1 362.5,429.9 370.5,436.3 378.5,445.2 386.5,455.2 394.5,466.9 402.5,478.3 410.5,487.5 418.5,499.2 426.5,510.3 434.5,521.8 442.5,531.9 450.5,540.9 458.5,547.8 466.5,553.4 474.5,560.8 482.5,570.7 490.5,580.7 498.5,592.1 506.5,601.6 514.5,612.0 522.5,622.0 530.5,632.5 538.5,644.1 546.5,655.5 554.5,663.7 562.5,671.9 570.5,679.1 578.5,684.1 586.5,689.4 594.5,695.0 602.5,698.0 610.5,700.9 618.5,707.7 626.5,712.0 634.5,716.2 642.5,715.7 650.5,714.5 658.5,710.8 666.5,707.9 674.5,705.0 682.5,700.6 690.5,697.5 698.5,693.6 706.5,688.9 714.5,685.3 722.5,681.1 730.5,676.2 738.5,672.7 746.5,667.1 754.5,661.4 762.5,653.3 770.5,647.0 778.5,640.2 786.5,632.7 794.5,624.9 802.5,617.3 810.5,610.1 818.5,605.2 826.5,599.1 834.5,594.4 842.5,590.7 850.5,582.4 858.5,577.2 866.5,572.6 874.5,566.5 882.5,559.3 890.5,551.0 898.5,541.7 906.5,535.9 914.5,529.8 922.5,523.9 930.5,517.0 938.5,511.9 946.5,506.6 954.5,502.4 962.5,500.0 970.5,500.9 978.5,501.0 986.5,504.1 994.5,507.1 1002.5,510.0 1010.5,511.2 1018.5,513.3 1026.5,515.3 1034.5,515.5 1042.5,514.4 1050.5,512.5 1058.5,510.5 1066.5,507.0 1074.5,502.8 1082.5,500.0 1090.5,495.3 1098.5,486.4 1106.5,479.5 1114.5,471.8 1122.5,464.1 1130.5,455.7 1138.5,447.8 1146.5,441.8 1154.5,435.2 1162.5,428.6 1170.5,422.7 1178.5,416.5 1186.5,409.7 1194.5,402.8 1202.5,396.6 1210.5,391.2 1218.5,386.4 1226.5,381.0 1234.5,378.2 1242.5,377.5 1250.5,375.1 1258.5,373.9 1266.5,372.9 1274.5,370.4 1282.5,368.6 1290.5,367.0 1298.5,367.8 1306.5,366.9 1314.5,366.6 1322.5,367.7 1330.5,367.3 1338.5,367.7 1346.5,368.7 1354.5,372.4 1362.5,377.8 1370.5,382.9 1378.5,386.9 1386.5,390.0 1394.5,390.0 1402.5,392.5 1410.5,395.7 1418.5,400.0 1426.5,403.2 1434.5,407.2 1442.5,414.0 1450.5,421.0 1458.5,427.1 1466.5,434.0 1474.5,440.2" fill="none" stroke="#b09319" stroke-width="2.4" stroke-linejoin="round" shape-rendering="crispEdges"/>
<polyline points="2.5,312.7 10.5,310.3 18.5,306.8 26.5,302.2 34.5,297.5 42.5,292.3 50.5,284.6 58.5,274.3 66.5,266.0 74.5,257.9 82.5,246.3 90.5,236.1 98.5,226.4 106.5,215.4 114.5,205.5 122.5,195.6 130.5,188.4 138.5,183.7 146.5,179.1 154.5,173.2 162.5,166.4 170.5,171.1 178.5,179.0 186.5,185.4 194.5,190.1 202.5,202.4 210.5,209.0 218.5,214.9 226.5,221.7 234.5,233.4 242.5,250.4 250.5,265.4 258.5,279.6 266.5,291.5 274.5,307.4 282.5,332.0 290.5,356.5 298.5,389.6 306.5,428.3 314.5,462.8 322.5,485.0 330.5,503.1 338.5,521.9 346.5,536.5 354.5,551.2 362.5,562.5 370.5,565.4 378.5,574.6 386.5,586.7 394.5,602.5 402.5,617.3 410.5,626.3 418.5,641.6 426.5,654.9 434.5,669.2 442.5,679.6 450.5,687.5 458.5,690.3 466.5,690.1 474.5,695.3 482.5,706.5 490.5,717.8 498.5,732.4 506.5,742.2 514.5,753.9 522.5,764.7 530.5,776.6 538.5,791.0 546.5,804.9 554.5,810.6 562.5,816.3 570.5,820.1 578.5,818.9 586.5,818.8 594.5,820.2 602.5,815.6 610.5,811.3 618.5,817.3 626.5,817.3 634.5,817.5 642.5,806.7 650.5,795.2 658.5,778.3 666.5,764.9 674.5,752.6 682.5,737.3 690.5,726.3 698.5,714.1 706.5,700.8 714.5,690.8 722.5,680.1 730.5,668.3 738.5,660.5 746.5,648.2 754.5,636.1 762.5,618.8 770.5,606.8 778.5,594.0 786.5,580.3 794.5,566.4 802.5,553.5 810.5,542.1 818.5,536.5 826.5,528.2 834.5,523.6 842.5,521.5 850.5,508.0 858.5,502.2 866.5,498.3 874.5,490.5 882.5,480.2 890.5,467.6 898.5,453.1 906.5,447.4 914.5,440.9 922.5,435.1 930.5,427.0 938.5,422.9 946.5,418.7 954.5,416.7 962.5,419.2 970.5,428.9 978.5,436.1 986.5,449.8 994.5,462.3 1002.5,473.5 1010.5,480.0 1018.5,488.0 1026.5,495.4 1034.5,497.6 1042.5,496.6 1050.5,493.9 1058.5,490.7 1066.5,484.0 1074.5,476.1 1082.5,471.8 1090.5,463.0 1098.5,444.6 1106.5,431.8 1114.5,417.7 1122.5,404.1 1130.5,389.3 1138.5,376.6 1146.5,368.8 1154.5,359.6 1162.5,350.9 1170.5,343.8 1178.5,336.2 1186.5,327.5 1194.5,318.5 1202.5,311.5 1210.5,306.5 1218.5,302.9 1226.5,297.8 1234.5,298.8 1242.5,304.8 1250.5,305.7 1258.5,309.5 1266.5,313.3 1274.5,312.8 1282.5,313.9 1290.5,315.4 1298.5,322.1 1306.5,324.3 1314.5,327.6 1322.5,334.0 1330.5,336.2 1338.5,340.2 1346.5,345.2 1354.5,356.3 1362.5,371.1 1370.5,384.1 1378.5,393.7 1386.5,400.5 1394.5,399.6 1402.5,404.7 1410.5,411.3 1418.5,420.3 1426.5,426.1 1434.5,433.8 1442.5,447.6 1450.5,461.4 1458.5,472.4 1466.5,484.8 1474.5,495.0" fill="none" stroke="#4f9f99" stroke-width="2.4" stroke-linejoin="round" shape-rendering="crispEdges"/>
<line x1="547" y1="977" x2="1211" y2="213" stroke="#efbfb9" stroke-width="1" shape-rendering="crispEdges"/>
<line x1="546" y1="212.5" x2="1964" y2="212.5" stroke="#ffffff" stroke-width="1" shape-rendering="crispEdges"/>
<line x1="546" y1="393.5" x2="1964" y2="393.5" stroke="#ffffff" stroke-width="1" shape-rendering="crispEdges"/>
<line x1="546" y1="504.5" x2="1964" y2="504.5" stroke="#ffffff" stroke-width="1" shape-rendering="crispEdges"/>
<line x1="546" y1="685.5" x2="1964" y2="685.5" stroke="#ffffff" stroke-width="1" shape-rendering="crispEdges"/>
<line x1="546" y1="813.5" x2="1964" y2="813.5" stroke="#ffffff" stroke-width="1" shape-rendering="crispEdges"/>
<line x1="546" y1="977.5" x2="1964" y2="977.5" stroke="#ffffff" stroke-width="1" shape-rendering="crispEdges"/>
<line x1="2" y1="441.5" x2="1964" y2="441.5" stroke="#4f1f19" stroke-width="1" stroke-dasharray="9 6 3 6" shape-rendering="crispEdges"/>
<line x1="2" y1="481.5" x2="1964" y2="481.5" stroke="#4f1f19" stroke-width="1" stroke-dasharray="9 6 3 6" shape-rendering="crispEdges"/>
<line x1="2" y1="583.5" x2="1964" y2="583.5" stroke="#4f1f19" stroke-width="1" stroke-dasharray="9 6 3 6" shape-rendering="crispEdges"/>
<line x1="2" y1="600.5" x2="1964" y2="600.5" stroke="#4f1f19" stroke-width="1" stroke-dasharray="9 6 3 6" shape-rendering="crispEdges"/>
<line x1="2" y1="642.5" x2="1964" y2="642.5" stroke="#4f1f19" stroke-width="1" stroke-dasharray="9 6 3 6" shape-rendering="crispEdges"/>
<line x1="2" y1="703.5" x2="1964" y2="703.5" stroke="#4f1f19" stroke-width="1" stroke-dasharray="9 6 3 6" shape-rendering="crispEdges"/>
<line x1="2" y1="762.5" x2="1964" y2="762.5" stroke="#4f1f19" stroke-width="1" stroke-dasharray="9 6 3 6" shape-rendering="crispEdges"/>
<line x1="2" y1="772.5" x2="1964" y2="772.5" stroke="#4f1f19" stroke-width="1" stroke-dasharray="9 6 3 6" shape-rendering="crispEdges"/>
<line x1="2" y1="830.5" x2="1964" y2="590.4" stroke="#4f1f19" stroke-width="1" shape-rendering="crispEdges"/>
</g>
<g clip-path="url(#cpE2)"><rect x="1410" y="545" width="110" height="110" fill="#b0e0e6"/>
<line x1="546" y1="594.5" x2="1964" y2="594.5" stroke="#ffffff" stroke-width="1" shape-rendering="crispEdges"/>
<line x1="3" y1="591.5" x2="1964" y2="591.5" stroke="#389780" stroke-width="1" shape-rendering="crispEdges"/>
<g shape-rendering="crispEdges">
<path d="M1402.5 379 V458 M1410.5 439 V485 M1418.5 469 V512 M1434.5 471 V515 M1442.5 506 V590 M1450.5 534 V607 M1466.5 552 V622" stroke="#b01f19" stroke-width="1" fill="none"/>
<path d="M1426.5 477 V516 M1458.5 569 V611 M1474.5 578 V618" stroke="#4f9f19" stroke-width="1" fill="none"/>
<path d="M1400.0 391 h5 V454 h-5 Z M1408.0 455 h5 V474 h-5 Z M1416.0 476 h5 V506 h-5 Z M1432.0 487 h5 V507 h-5 Z M1440.0 506 h5 V579 h-5 Z M1448.0 578 h5 V593 h-5 Z M1464.0 575 h5 V603 h-5 Z" fill="#b01f19"/>
<path d="M1424.0 482 h5 V506 h-5 Z M1456.0 576 h5 V596 h-5 Z M1472.0 592 h5 V603 h-5 Z" fill="#4f9f19"/>
</g>
<polyline points="2.5,565.4 10.5,562.6 18.5,559.8 26.5,556.8 34.5,553.7 42.5,550.6 50.5,547.3 58.5,543.6 66.5,540.0 74.5,536.5 82.5,532.5 90.5,528.6 98.5,524.6 106.5,520.5 114.5,516.5 122.5,512.3 130.5,508.4 138.5,504.7 146.5,501.1 154.5,497.3 162.5,493.3 170.5,490.6 178.5,488.2 186.5,485.8 194.5,483.3 202.5,481.7 210.5,479.6 218.5,477.5 226.5,475.6 234.5,474.3 242.5,473.7 250.5,473.0 258.5,472.4 266.5,471.8 274.5,471.6 282.5,472.6 290.5,473.7 298.5,476.0 306.5,479.2 314.5,482.3 322.5,484.4 330.5,486.3 338.5,488.4 346.5,490.3 354.5,492.3 362.5,494.1 370.5,495.1 378.5,496.7 386.5,498.8 394.5,501.3 402.5,503.8 410.5,505.9 418.5,508.7 426.5,511.4 434.5,514.3 442.5,517.0 450.5,519.4 458.5,521.4 466.5,523.0 474.5,525.2 482.5,528.1 490.5,531.0 498.5,534.4 506.5,537.4 514.5,540.7 522.5,543.9 530.5,547.4 538.5,551.2 546.5,555.0 554.5,558.1 562.5,561.2 570.5,564.1 578.5,566.5 586.5,569.1 594.5,571.7 602.5,573.7 610.5,575.6 618.5,578.6 626.5,581.0 634.5,583.4 642.5,584.6 650.5,585.6 658.5,585.9 666.5,586.4 674.5,586.9 682.5,586.9 690.5,587.3 698.5,587.4 706.5,587.3 714.5,587.4 722.5,587.3 730.5,587.0 738.5,586.9 746.5,586.4 754.5,585.7 762.5,584.4 770.5,583.5 778.5,582.4 786.5,581.1 794.5,579.6 802.5,578.2 810.5,576.7 818.5,575.8 826.5,574.5 834.5,573.6 842.5,572.9 850.5,571.0 858.5,569.7 866.5,568.6 874.5,567.1 882.5,565.3 890.5,563.1 898.5,560.7 906.5,559.0 914.5,557.2 922.5,555.4 930.5,553.4 938.5,551.7 946.5,550.0 954.5,548.5 962.5,547.4 970.5,547.2 978.5,546.7 986.5,547.1 994.5,547.4 1002.5,547.7 1010.5,547.7 1018.5,547.8 1026.5,548.0 1034.5,547.7 1042.5,547.1 1050.5,546.3 1058.5,545.5 1066.5,544.2 1074.5,542.8 1082.5,541.7 1090.5,540.1 1098.5,537.4 1106.5,535.1 1114.5,532.6 1122.5,530.1 1130.5,527.3 1138.5,524.6 1146.5,522.3 1154.5,519.8 1162.5,517.3 1170.5,514.9 1178.5,512.4 1186.5,509.7 1194.5,507.0 1202.5,504.4 1210.5,501.9 1218.5,499.6 1226.5,497.1 1234.5,495.2 1242.5,493.9 1250.5,492.1 1258.5,490.7 1266.5,489.3 1274.5,487.5 1282.5,485.8 1290.5,484.3 1298.5,483.3 1306.5,481.9 1314.5,480.7 1322.5,479.8 1330.5,478.6 1338.5,477.6 1346.5,476.8 1354.5,476.6 1362.5,477.0 1370.5,477.3 1378.5,477.4 1386.5,477.2 1394.5,476.4 1402.5,476.2 1410.5,476.1 1418.5,476.4 1426.5,476.5 1434.5,476.8 1442.5,477.8 1450.5,478.9 1458.5,479.9 1466.5,481.1 1474.5,482.2" fill="none" stroke="#db1fca" stroke-width="2.0" stroke-linejoin="round" shape-rendering="crispEdges"/>
<polyline points="2.5,362.6 10.5,359.6 18.5,356.3 26.5,352.4 34.5,348.5 42.5,344.4 50.5,339.2 58.5,332.8 66.5,327.1 74.5,321.4 82.5,314.1 90.5,307.2 98.5,300.4 106.5,293.0 114.5,285.9 122.5,278.7 130.5,272.4 138.5,267.2 146.5,262.1 154.5,256.4 162.5,250.3 170.5,249.0 178.5,249.1 186.5,249.1 194.5,248.5 202.5,251.2 210.5,252.1 218.5,252.8 226.5,254.1 234.5,257.7 242.5,263.7 250.5,269.4 258.5,275.1 266.5,280.1 274.5,287.1 282.5,298.1 290.5,309.5 298.5,324.9 306.5,343.4 314.5,360.9 322.5,374.1 330.5,385.9 338.5,398.2 346.5,409.1 354.5,420.1 362.5,429.9 370.5,436.3 378.5,445.2 386.5,455.2 394.5,466.9 402.5,478.3 410.5,487.5 418.5,499.2 426.5,510.3 434.5,521.8 442.5,531.9 450.5,540.9 458.5,547.8 466.5,553.4 474.5,560.8 482.5,570.7 490.5,580.7 498.5,592.1 506.5,601.6 514.5,612.0 522.5,622.0 530.5,632.5 538.5,644.1 546.5,655.5 554.5,663.7 562.5,671.9 570.5,679.1 578.5,684.1 586.5,689.4 594.5,695.0 602.5,698.0 610.5,700.9 618.5,707.7 626.5,712.0 634.5,716.2 642.5,715.7 650.5,714.5 658.5,710.8 666.5,707.9 674.5,705.0 682.5,700.6 690.5,697.5 698.5,693.6 706.5,688.9 714.5,685.3 722.5,681.1 730.5,676.2 738.5,672.7 746.5,667.1 754.5,661.4 762.5,653.3 770.5,647.0 778.5,640.2 786.5,632.7 794.5,624.9 802.5,617.3 810.5,610.1 818.5,605.2 826.5,599.1 834.5,594.4 842.5,590.7 850.5,582.4 858.5,577.2 866.5,572.6 874.5,566.5 882.5,559.3 890.5,551.0 898.5,541.7 906.5,535.9 914.5,529.8 922.5,523.9 930.5,517.0 938.5,511.9 946.5,506.6 954.5,502.4 962.5,500.0 970.5,500.9 978.5,501.0 986.5,504.1 994.5,507.1 1002.5,510.0 1010.5,511.2 1018.5,513.3 1026.5,515.3 1034.5,515.5 1042.5,514.4 1050.5,512.5 1058.5,510.5 1066.5,507.0 1074.5,502.8 1082.5,500.0 1090.5,495.3 1098.5,486.4 1106.5,479.5 1114.5,471.8 1122.5,464.1 1130.5,455.7 1138.5,447.8 1146.5,441.8 1154.5,435.2 1162.5,428.6 1170.5,422.7 1178.5,416.5 1186.5,409.7 1194.5,402.8 1202.5,396.6 1210.5,391.2 1218.5,386.4 1226.5,381.0 1234.5,378.2 1242.5,377.5 1250.5,375.1 1258.5,373.9 1266.5,372.9 1274.5,370.4 1282.5,368.6 1290.5,367.0 1298.5,367.8 1306.5,366.9 1314.5,366.6 1322.5,367.7 1330.5,367.3 1338.5,367.7 1346.5,368.7 1354.5,372.4 1362.5,377.8 1370.5,382.9 1378.5,386.9 1386.5,390.0 1394.5,390.0 1402.5,392.5 1410.5,395.7 1418.5,400.0 1426.5,403.2 1434.5,407.2 1442.5,414.0 1450.5,421.0 1458.5,427.1 1466.5,434.0 1474.5,440.2" fill="none" stroke="#b09319" stroke-width="2.4" stroke-linejoin="round" shape-rendering="crispEdges"/>
<polyline points="2.5,312.7 10.5,310.3 18.5,306.8 26.5,302.2 34.5,297.5 42.5,292.3 50.5,284.6 58.5,274.3 66.5,266.0 74.5,257.9 82.5,246.3 90.5,236.1 98.5,226.4 106.5,215.4 114.5,205.5 122.5,195.6 130.5,188.4 138.5,183.7 146.5,179.1 154.5,173.2 162.5,166.4 170.5,171.1 178.5,179.0 186.5,185.4 194.5,190.1 202.5,202.4 210.5,209.0 218.5,214.9 226.5,221.7 234.5,233.4 242.5,250.4 250.5,265.4 258.5,279.6 266.5,291.5 274.5,307.4 282.5,332.0 290.5,356.5 298.5,389.6 306.5,428.3 314.5,462.8 322.5,485.0 330.5,503.1 338.5,521.9 346.5,536.5 354.5,551.2 362.5,562.5 370.5,565.4 378.5,574.6 386.5,586.7 394.5,602.5 402.5,617.3 410.5,626.3 418.5,641.6 426.5,654.9 434.5,669.2 442.5,679.6 450.5,687.5 458.5,690.3 466.5,690.1 474.5,695.3 482.5,706.5 490.5,717.8 498.5,732.4 506.5,742.2 514.5,753.9 522.5,764.7 530.5,776.6 538.5,791.0 546.5,804.9 554.5,810.6 562.5,816.3 570.5,820.1 578.5,818.9 586.5,818.8 594.5,820.2 602.5,815.6 610.5,811.3 618.5,817.3 626.5,817.3 634.5,817.5 642.5,806.7 650.5,795.2 658.5,778.3 666.5,764.9 674.5,752.6 682.5,737.3 690.5,726.3 698.5,714.1 706.5,700.8 714.5,690.8 722.5,680.1 730.5,668.3 738.5,660.5 746.5,648.2 754.5,636.1 762.5,618.8 770.5,606.8 778.5,594.0 786.5,580.3 794.5,566.4 802.5,553.5 810.5,542.1 818.5,536.5 826.5,528.2 834.5,523.6 842.5,521.5 850.5,508.0 858.5,502.2 866.5,498.3 874.5,490.5 882.5,480.2 890.5,467.6 898.5,453.1 906.5,447.4 914.5,440.9 922.5,435.1 930.5,427.0 938.5,422.9 946.5,418.7 954.5,416.7 962.5,419.2 970.5,428.9 978.5,436.1 986.5,449.8 994.5,462.3 1002.5,473.5 1010.5,480.0 1018.5,488.0 1026.5,495.4 1034.5,497.6 1042.5,496.6 1050.5,493.9 1058.5,490.7 1066.5,484.0 1074.5,476.1 1082.5,471.8 1090.5,463.0 1098.5,444.6 1106.5,431.8 1114.5,417.7 1122.5,404.1 1130.5,389.3 1138.5,376.6 1146.5,368.8 1154.5,359.6 1162.5,350.9 1170.5,343.8 1178.5,336.2 1186.5,327.5 1194.5,318.5 1202.5,311.5 1210.5,306.5 1218.5,302.9 1226.5,297.8 1234.5,298.8 1242.5,304.8 1250.5,305.7 1258.5,309.5 1266.5,313.3 1274.5,312.8 1282.5,313.9 1290.5,315.4 1298.5,322.1 1306.5,324.3 1314.5,327.6 1322.5,334.0 1330.5,336.2 1338.5,340.2 1346.5,345.2 1354.5,356.3 1362.5,371.1 1370.5,384.1 1378.5,393.7 1386.5,400.5 1394.5,399.6 1402.5,404.7 1410.5,411.3 1418.5,420.3 1426.5,426.1 1434.5,433.8 1442.5,447.6 1450.5,461.4 1458.5,472.4 1466.5,484.8 1474.5,495.0" fill="none" stroke="#4f9f99" stroke-width="2.4" stroke-linejoin="round" shape-rendering="crispEdges"/>
<line x1="547" y1="977" x2="1211" y2="213" stroke="#efbfb9" stroke-width="1" shape-rendering="crispEdges"/>
<line x1="546" y1="212.5" x2="1964" y2="212.5" stroke="#ffffff" stroke-width="1" shape-rendering="crispEdges"/>
<line x1="546" y1="393.5" x2="1964" y2="393.5" stroke="#ffffff" stroke-width="1" shape-rendering="crispEdges"/>
<line x1="546" y1="504.5" x2="1964" y2="504.5" stroke="#ffffff" stroke-width="1" shape-rendering="crispEdges"/>
<line x1="546" y1="685.5" x2="1964" y2="685.5" stroke="#ffffff" stroke-width="1" shape-rendering="crispEdges"/>
<line x1="546" y1="813.5" x2="1964" y2="813.5" stroke="#ffffff" stroke-width="1" shape-rendering="crispEdges"/>
<line x1="546" y1="977.5" x2="1964" y2="977.5" stroke="#ffffff" stroke-width="1" shape-rendering="crispEdges"/>
<line x1="2" y1="441.5" x2="1964" y2="441.5" stroke="#4f1f19" stroke-width="1" stroke-dasharray="9 6 3 6" shape-rendering="crispEdges"/>
<line x1="2" y1="481.5" x2="1964" y2="481.5" stroke="#4f1f19" stroke-width="1" stroke-dasharray="9 6 3 6" shape-rendering="crispEdges"/>
<line x1="2" y1="583.5" x2="1964" y2="583.5" stroke="#4f1f19" stroke-width="1" stroke-dasharray="9 6 3 6" shape-rendering="crispEdges"/>
<line x1="2" y1="600.5" x2="1964" y2="600.5" stroke="#4f1f19" stroke-width="1" stroke-dasharray="9 6 3 6" shape-rendering="crispEdges"/>
<line x1="2" y1="642.5" x2="1964" y2="642.5" stroke="#4f1f19" stroke-width="1" stroke-dasharray="9 6 3 6" shape-rendering="crispEdges"/>
<line x1="2" y1="703.5" x2="1964" y2="703.5" stroke="#4f1f19" stroke-width="1" stroke-dasharray="9 6 3 6" shape-rendering="crispEdges"/>
<line x1="2" y1="762.5" x2="1964" y2="762.5" stroke="#4f1f19" stroke-width="1" stroke-dasharray="9 6 3 6" shape-rendering="crispEdges"/>
<line x1="2" y1="772.5" x2="1964" y2="772.5" stroke="#4f1f19" stroke-width="1" stroke-dasharray="9 6 3 6" shape-rendering="crispEdges"/>
<line x1="2" y1="830.5" x2="1964" y2="590.4" stroke="#4f1f19" stroke-width="1" shape-rendering="crispEdges"/>
<line x1="1210.3" y1="213.0" x2="1658.6" y2="619.2" stroke="#4f1f19" stroke-width="2.6" shape-rendering="crispEdges"/>
<line x1="1146.7" y1="319.0" x2="1633.9" y2="764.7" stroke="#4f1f19" stroke-width="2.6" shape-rendering="crispEdges"/>
<line x1="1185.7" y1="314.6" x2="1657.4" y2="742.4" stroke="#4f1f19" stroke-width="1" shape-rendering="crispEdges"/>
<g clip-path="url(#cpCh)"><rect x="1410" y="545" width="110" height="110" fill="#b0fbdd"/>
<line x1="546" y1="594.5" x2="1964" y2="594.5" stroke="#ffe4c4" stroke-width="1" shape-rendering="crispEdges"/>
<line x1="3" y1="591.5" x2="1964" y2="591.5" stroke="#388cbb" stroke-width="1" shape-rendering="crispEdges"/>
<polyline points="2.5,362.6 10.5,359.6 18.5,356.3 26.5,352.4 34.5,348.5 42.5,344.4 50.5,339.2 58.5,332.8 66.5,327.1 74.5,321.4 82.5,314.1 90.5,307.2 98.5,300.4 106.5,293.0 114.5,285.9 122.5,278.7 130.5,272.4 138.5,267.2 146.5,262.1 154.5,256.4 162.5,250.3 170.5,249.0 178.5,249.1 186.5,249.1 194.5,248.5 202.5,251.2 210.5,252.1 218.5,252.8 226.5,254.1 234.5,257.7 242.5,263.7 250.5,269.4 258.5,275.1 266.5,280.1 274.5,287.1 282.5,298.1 290.5,309.5 298.5,324.9 306.5,343.4 314.5,360.9 322.5,374.1 330.5,385.9 338.5,398.2 346.5,409.1 354.5,420.1 362.5,429.9 370.5,436.3 378.5,445.2 386.5,455.2 394.5,466.9 402.5,478.3 410.5,487.5 418.5,499.2 426.5,510.3 434.5,521.8 442.5,531.9 450.5,540.9 458.5,547.8 466.5,553.4 474.5,560.8 482.5,570.7 490.5,580.7 498.5,592.1 506.5,601.6 514.5,612.0 522.5,622.0 530.5,632.5 538.5,644.1 546.5,655.5 554.5,663.7 562.5,671.9 570.5,679.1 578.5,684.1 586.5,689.4 594.5,695.0 602.5,698.0 610.5,700.9 618.5,707.7 626.5,712.0 634.5,716.2 642.5,715.7 650.5,714.5 658.5,710.8 666.5,707.9 674.5,705.0 682.5,700.6 690.5,697.5 698.5,693.6 706.5,688.9 714.5,685.3 722.5,681.1 730.5,676.2 738.5,672.7 746.5,667.1 754.5,661.4 762.5,653.3 770.5,647.0 778.5,640.2 786.5,632.7 794.5,624.9 802.5,617.3 810.5,610.1 818.5,605.2 826.5,599.1 834.5,594.4 842.5,590.7 850.5,582.4 858.5,577.2 866.5,572.6 874.5,566.5 882.5,559.3 890.5,551.0 898.5,541.7 906.5,535.9 914.5,529.8 922.5,523.9 930.5,517.0 938.5,511.9 946.5,506.6 954.5,502.4 962.5,500.0 970.5,500.9 978.5,501.0 986.5,504.1 994.5,507.1 1002.5,510.0 1010.5,511.2 1018.5,513.3 1026.5,515.3 1034.5,515.5 1042.5,514.4 1050.5,512.5 1058.5,510.5 1066.5,507.0 1074.5,502.8 1082.5,500.0 1090.5,495.3 1098.5,486.4 1106.5,479.5 1114.5,471.8 1122.5,464.1 1130.5,455.7 1138.5,447.8 1146.5,441.8 1154.5,435.2 1162.5,428.6 1170.5,422.7 1178.5,416.5 1186.5,409.7 1194.5,402.8 1202.5,396.6 1210.5,391.2 1218.5,386.4 1226.5,381.0 1234.5,378.2 1242.5,377.5 1250.5,375.1 1258.5,373.9 1266.5,372.9 1274.5,370.4 1282.5,368.6 1290.5,367.0 1298.5,367.8 1306.5,366.9 1314.5,366.6 1322.5,367.7 1330.5,367.3 1338.5,367.7 1346.5,368.7 1354.5,372.4 1362.5,377.8 1370.5,382.9 1378.5,386.9 1386.5,390.0 1394.5,390.0 1402.5,392.5 1410.5,395.7 1418.5,400.0 1426.5,403.2 1434.5,407.2 1442.5,414.0 1450.5,421.0 1458.5,427.1 1466.5,434.0 1474.5,440.2" fill="none" stroke="#b08822" stroke-width="2.4" stroke-linejoin="round" shape-rendering="crispEdges"/>
<g shape-rendering="crispEdges">
<path d="M1402.5 379 V458 M1410.5 439 V485 M1418.5 469 V512 M1434.5 471 V515 M1442.5 506 V590 M1450.5 534 V607 M1466.5 552 V622" stroke="#b00422" stroke-width="1" fill="none"/>
<path d="M1426.5 477 V516 M1458.5 569 V611 M1474.5 578 V618" stroke="#4f8422" stroke-width="1" fill="none"/>
<path d="M1400.0 391 h5 V454 h-5 Z M1408.0 455 h5 V474 h-5 Z M1416.0 476 h5 V506 h-5 Z M1432.0 487 h5 V507 h-5 Z M1440.0 506 h5 V579 h-5 Z M1448.0 578 h5 V593 h-5 Z M1464.0 575 h5 V603 h-5 Z" fill="#b00422"/>
<path d="M1424.0 482 h5 V506 h-5 Z M1456.0 576 h5 V596 h-5 Z M1472.0 592 h5 V603 h-5 Z" fill="#4f8422"/>
</g>
<polyline points="2.5,565.4 10.5,562.6 18.5,559.8 26.5,556.8 34.5,553.7 42.5,550.6 50.5,547.3 58.5,543.6 66.5,540.0 74.5,536.5 82.5,532.5 90.5,528.6 98.5,524.6 106.5,520.5 114.5,516.5 122.5,512.3 130.5,508.4 138.5,504.7 146.5,501.1 154.5,497.3 162.5,493.3 170.5,490.6 178.5,488.2 186.5,485.8 194.5,483.3 202.5,481.7 210.5,479.6 218.5,477.5 226.5,475.6 234.5,474.3 242.5,473.7 250.5,473.0 258.5,472.4 266.5,471.8 274.5,471.6 282.5,472.6 290.5,473.7 298.5,476.0 306.5,479.2 314.5,482.3 322.5,484.4 330.5,486.3 338.5,488.4 346.5,490.3 354.5,492.3 362.5,494.1 370.5,495.1 378.5,496.7 386.5,498.8 394.5,501.3 402.5,503.8 410.5,505.9 418.5,508.7 426.5,511.4 434.5,514.3 442.5,517.0 450.5,519.4 458.5,521.4 466.5,523.0 474.5,525.2 482.5,528.1 490.5,531.0 498.5,534.4 506.5,537.4 514.5,540.7 522.5,543.9 530.5,547.4 538.5,551.2 546.5,555.0 554.5,558.1 562.5,561.2 570.5,564.1 578.5,566.5 586.5,569.1 594.5,571.7 602.5,573.7 610.5,575.6 618.5,578.6 626.5,581.0 634.5,583.4 642.5,584.6 650.5,585.6 658.5,585.9 666.5,586.4 674.5,586.9 682.5,586.9 690.5,587.3 698.5,587.4 706.5,587.3 714.5,587.4 722.5,587.3 730.5,587.0 738.5,586.9 746.5,586.4 754.5,585.7 762.5,584.4 770.5,583.5 778.5,582.4 786.5,581.1 794.5,579.6 802.5,578.2 810.5,576.7 818.5,575.8 826.5,574.5 834.5,573.6 842.5,572.9 850.5,571.0 858.5,569.7 866.5,568.6 874.5,567.1 882.5,565.3 890.5,563.1 898.5,560.7 906.5,559.0 914.5,557.2 922.5,555.4 930.5,553.4 938.5,551.7 946.5,550.0 954.5,548.5 962.5,547.4 970.5,547.2 978.5,546.7 986.5,547.1 994.5,547.4 1002.5,547.7 1010.5,547.7 1018.5,547.8 1026.5,548.0 1034.5,547.7 1042.5,547.1 1050.5,546.3 1058.5,545.5 1066.5,544.2 1074.5,542.8 1082.5,541.7 1090.5,540.1 1098.5,537.4 1106.5,535.1 1114.5,532.6 1122.5,530.1 1130.5,527.3 1138.5,524.6 1146.5,522.3 1154.5,519.8 1162.5,517.3 1170.5,514.9 1178.5,512.4 1186.5,509.7 1194.5,507.0 1202.5,504.4 1210.5,501.9 1218.5,499.6 1226.5,497.1 1234.5,495.2 1242.5,493.9 1250.5,492.1 1258.5,490.7 1266.5,489.3 1274.5,487.5 1282.5,485.8 1290.5,484.3 1298.5,483.3 1306.5,481.9 1314.5,480.7 1322.5,479.8 1330.5,478.6 1338.5,477.6 1346.5,476.8 1354.5,476.6 1362.5,477.0 1370.5,477.3 1378.5,477.4 1386.5,477.2 1394.5,476.4 1402.5,476.2 1410.5,476.1 1418.5,476.4 1426.5,476.5 1434.5,476.8 1442.5,477.8 1450.5,478.9 1458.5,479.9 1466.5,481.1 1474.5,482.2" fill="none" stroke="#db04f1" stroke-width="2.0" stroke-linejoin="round" shape-rendering="crispEdges"/>
<polyline points="2.5,312.7 10.5,310.3 18.5,306.8 26.5,302.2 34.5,297.5 42.5,292.3 50.5,284.6 58.5,274.3 66.5,266.0 74.5,257.9 82.5,246.3 90.5,236.1 98.5,226.4 106.5,215.4 114.5,205.5 122.5,195.6 130.5,188.4 138.5,183.7 146.5,179.1 154.5,173.2 162.5,166.4 170.5,171.1 178.5,179.0 186.5,185.4 194.5,190.1 202.5,202.4 210.5,209.0 218.5,214.9 226.5,221.7 234.5,233.4 242.5,250.4 250.5,265.4 258.5,279.6 266.5,291.5 274.5,307.4 282.5,332.0 290.5,356.5 298.5,389.6 306.5,428.3 314.5,462.8 322.5,485.0 330.5,503.1 338.5,521.9 346.5,536.5 354.5,551.2 362.5,562.5 370.5,565.4 378.5,574.6 386.5,586.7 394.5,602.5 402.5,617.3 410.5,626.3 418.5,641.6 426.5,654.9 434.5,669.2 442.5,679.6 450.5,687.5 458.5,690.3 466.5,690.1 474.5,695.3 482.5,706.5 490.5,717.8 498.5,732.4 506.5,742.2 514.5,753.9 522.5,764.7 530.5,776.6 538.5,791.0 546.5,804.9 554.5,810.6 562.5,816.3 570.5,820.1 578.5,818.9 586.5,818.8 594.5,820.2 602.5,815.6 610.5,811.3 618.5,817.3 626.5,817.3 634.5,817.5 642.5,806.7 650.5,795.2 658.5,778.3 666.5,764.9 674.5,752.6 682.5,737.3 690.5,726.3 698.5,714.1 706.5,700.8 714.5,690.8 722.5,680.1 730.5,668.3 738.5,660.5 746.5,648.2 754.5,636.1 762.5,618.8 770.5,606.8 778.5,594.0 786.5,580.3 794.5,566.4 802.5,553.5 810.5,542.1 818.5,536.5 826.5,528.2 834.5,523.6 842.5,521.5 850.5,508.0 858.5,502.2 866.5,498.3 874.5,490.5 882.5,480.2 890.5,467.6 898.5,453.1 906.5,447.4 914.5,440.9 922.5,435.1 930.5,427.0 938.5,422.9 946.5,418.7 954.5,416.7 962.5,419.2 970.5,428.9 978.5,436.1 986.5,449.8 994.5,462.3 1002.5,473.5 1010.5,480.0 1018.5,488.0 1026.5,495.4 1034.5,497.6 1042.5,496.6 1050.5,493.9 1058.5,490.7 1066.5,484.0 1074.5,476.1 1082.5,471.8 1090.5,463.0 1098.5,444.6 1106.5,431.8 1114.5,417.7 1122.5,404.1 1130.5,389.3 1138.5,376.6 1146.5,368.8 1154.5,359.6 1162.5,350.9 1170.5,343.8 1178.5,336.2 1186.5,327.5 1194.5,318.5 1202.5,311.5 1210.5,306.5 1218.5,302.9 1226.5,297.8 1234.5,298.8 1242.5,304.8 1250.5,305.7 1258.5,309.5 1266.5,313.3 1274.5,312.8 1282.5,313.9 1290.5,315.4 1298.5,322.1 1306.5,324.3 1314.5,327.6 1322.5,334.0 1330.5,336.2 1338.5,340.2 1346.5,345.2 1354.5,356.3 1362.5,371.1 1370.5,384.1 1378.5,393.7 1386.5,400.5 1394.5,399.6 1402.5,404.7 1410.5,411.3 1418.5,420.3 1426.5,426.1 1434.5,433.8 1442.5,447.6 1450.5,461.4 1458.5,472.4 1466.5,484.8 1474.5,495.0" fill="none" stroke="#4f84a2" stroke-width="2.4" stroke-linejoin="round" shape-rendering="crispEdges"/>
<line x1="547" y1="977" x2="1211" y2="213" stroke="#efa482" stroke-width="1" shape-rendering="crispEdges"/>
<line x1="546" y1="212.5" x2="1964" y2="212.5" stroke="#ffe4c4" stroke-width="1" shape-rendering="crispEdges"/>
<line x1="546" y1="393.5" x2="1964" y2="393.5" stroke="#ffe4c4" stroke-width="1" shape-rendering="crispEdges"/>
<line x1="546" y1="504.5" x2="1964" y2="504.5" stroke="#ffe4c4" stroke-width="1" shape-rendering="crispEdges"/>
<line x1="546" y1="685.5" x2="1964" y2="685.5" stroke="#ffe4c4" stroke-width="1" shape-rendering="crispEdges"/>
<line x1="546" y1="813.5" x2="1964" y2="813.5" stroke="#ffe4c4" stroke-width="1" shape-rendering="crispEdges"/>
<line x1="546" y1="977.5" x2="1964" y2="977.5" stroke="#ffe4c4" stroke-width="1" shape-rendering="crispEdges"/>
<line x1="2" y1="441.5" x2="1964" y2="441.5" stroke="#4f0422" stroke-width="1" stroke-dasharray="9 6 3 6" shape-rendering="crispEdges"/>
<line x1="2" y1="481.5" x2="1964" y2="481.5" stroke="#4f0422" stroke-width="1" stroke-dasharray="9 6 3 6" shape-rendering="crispEdges"/>
<line x1="2" y1="583.5" x2="1964" y2="583.5" stroke="#4f0422" stroke-width="1" stroke-dasharray="9 6 3 6" shape-rendering="crispEdges"/>
<line x1="2" y1="600.5" x2="1964" y2="600.5" stroke="#4f0422" stroke-width="1" stroke-dasharray="9 6 3 6" shape-rendering="crispEdges"/>
<line x1="2" y1="642.5" x2="1964" y2="642.5" stroke="#4f0422" stroke-width="1" stroke-dasharray="9 6 3 6" shape-rendering="crispEdges"/>
<line x1="2" y1="703.5" x2="1964" y2="703.5" stroke="#4f0422" stroke-width="1" stroke-dasharray="9 6 3 6" shape-rendering="crispEdges"/>
<line x1="2" y1="762.5" x2="1964" y2="762.5" stroke="#4f0422" stroke-width="1" stroke-dasharray="9 6 3 6" shape-rendering="crispEdges"/>
<line x1="2" y1="772.5" x2="1964" y2="772.5" stroke="#4f0422" stroke-width="1" stroke-dasharray="9 6 3 6" shape-rendering="crispEdges"/>
<line x1="2" y1="830.5" x2="1964" y2="590.4" stroke="#4f0422" stroke-width="1" shape-rendering="crispEdges"/>
</g>
<line x1="1210.3" y1="213.0" x2="1658.6" y2="619.2" stroke="#4f1f19" stroke-width="2.6" shape-rendering="crispEdges"/>
<line x1="1146.7" y1="319.0" x2="1633.9" y2="764.7" stroke="#4f1f19" stroke-width="2.6" shape-rendering="crispEdges"/>
<line x1="1185.7" y1="314.6" x2="1657.4" y2="742.4" stroke="#4f1f19" stroke-width="1" shape-rendering="crispEdges"/>
</g>
</g>
<path d="M2.5 2.5 H1964.5 V1273.5 M2.5 2.5 V1273.5 M2.5 1060.5 H1964.5 M2.5 1062.5 H1964.5 M2.5 1200.5 H1964.5 M2.5 1202.5 H1964.5 M2.5 1273.5 H1964.5" stroke="#000" stroke-width="1" fill="none" shape-rendering="crispEdges"/>
<path d="M3 1061.5 H1964" stroke="#fff" stroke-width="1" shape-rendering="crispEdges"/>
<path d="M3 1201.5 H1964" stroke="#fff" stroke-width="1" shape-rendering="crispEdges"/>
<path d="M1965 33.5 h4 M1965 65.5 h4 M1965 97.5 h4 M1965 129.5 h4 M1965 161.5 h4 M1965 193.5 h4 M1965 225.5 h4 M1965 257.5 h4 M1965 289.5 h4 M1965 321.5 h4 M1965 353.5 h4 M1965 386.5 h4 M1965 418.5 h4 M1965 450.5 h4 M1965 482.5 h4 M1965 514.5 h4 M1965 546.5 h4 M1965 578.5 h4 M1965 610.5 h4 M1965 642.5 h4 M1965 674.5 h4 M1965 707.5 h4 M1965 739.5 h4 M1965 771.5 h4 M1965 803.5 h4 M1965 835.5 h4 M1965 867.5 h4 M1965 899.5 h4 M1965 931.5 h4 M1965 963.5 h4 M1965 995.5 h4 M1965 1028.5 h4" stroke="#000" stroke-width="1" fill="none" shape-rendering="crispEdges"/>
<g font-size="12.6" fill="#000"><text x="1970.2" y="37.5">163.390</text><text x="1970.2" y="69.6">162.580</text><text x="1970.2" y="101.7">161.770</text><text x="1970.2" y="133.8">160.960</text><text x="1970.2" y="165.9">160.150</text><text x="1970.2" y="198.0">159.340</text><text x="1970.2" y="230.1">158.530</text><text x="1970.2" y="262.2">157.720</text><text x="1970.2" y="294.3">156.910</text><text x="1970.2" y="326.4">156.100</text><text x="1970.2" y="358.5">155.290</text><text x="1970.2" y="390.6">154.480</text><text x="1970.2" y="422.7">153.670</text><text x="1970.2" y="454.8">152.860</text><text x="1970.2" y="486.9">152.050</text><text x="1970.2" y="519.0">151.240</text><text x="1970.2" y="551.0">150.430</text><text x="1970.2" y="583.1">149.620</text><text x="1970.2" y="615.2">148.810</text><text x="1970.2" y="647.3">148.000</text><text x="1970.2" y="679.4">147.190</text><text x="1970.2" y="711.5">146.380</text><text x="1970.2" y="743.6">145.570</text><text x="1970.2" y="775.7">144.760</text><text x="1970.2" y="807.8">143.950</text><text x="1970.2" y="839.9">143.140</text><text x="1970.2" y="872.0">142.330</text><text x="1970.2" y="904.1">141.520</text><text x="1970.2" y="936.2">140.710</text><text x="1970.2" y="968.3">139.900</text><text x="1970.2" y="1000.4">139.090</text><text x="1970.2" y="1032.5">138.280</text></g>
<g font-size="12.6" fill="#b0e0e6" text-anchor="end"><text x="1962" y="209.0" textLength="17.6" lengthAdjust="spacingAndGlyphs">0.0</text><text x="1962" y="390.0" textLength="70.3" lengthAdjust="spacingAndGlyphs">23.6154.312</text><text x="1962" y="501.0" textLength="70.3" lengthAdjust="spacingAndGlyphs">38.2151.494</text><text x="1962" y="591.0" textLength="70.3" lengthAdjust="spacingAndGlyphs">50.0149.217</text><text x="1962" y="682.0" textLength="70.3" lengthAdjust="spacingAndGlyphs">61.8146.940</text><text x="1962" y="810.0" textLength="70.3" lengthAdjust="spacingAndGlyphs">78.6143.698</text><text x="1962" y="974.0" textLength="31.6" lengthAdjust="spacingAndGlyphs">100.0</text></g>
<rect x="1967" y="585" width="54" height="14" fill="#778899"/>
<text x="1971" y="596" font-size="12.6" fill="#fff">148.914</text>
<rect x="1967" y="434.5" width="54" height="13.5" fill="#000"/>
<rect x="1967" y="474.5" width="54" height="13.5" fill="#000"/>
<rect x="1967" y="576.5" width="54" height="13.5" fill="#000"/>
<rect x="1967" y="593.5" width="54" height="13.5" fill="#000"/>
<rect x="1967" y="635.5" width="54" height="13.5" fill="#000"/>
<rect x="1967" y="696.5" width="54" height="13.5" fill="#000"/>
<rect x="1967" y="755.5" width="54" height="13.5" fill="#000"/>
<rect x="1967" y="765.5" width="54" height="13.5" fill="#000"/>
<text x="1971" y="446.1" font-size="12.6" fill="#fff">153.075</text>
<text x="1971" y="486.1" font-size="12.6" fill="#fff">152.085</text>
<text x="1971" y="588.1" font-size="12.6" fill="#fff">149.500</text>
<text x="1971" y="605.1" font-size="12.6" fill="#fff">149.075</text>
<text x="1971" y="647.1" font-size="12.6" fill="#fff">148.017</text>
<text x="1971" y="708.1" font-size="12.6" fill="#fff">146.458</text>
<text x="1971" y="767.1" font-size="12.6" fill="#fff">145.000</text>
<text x="1971" y="777.1" font-size="12.6" fill="#fff">144.700</text>
<line x1="3" y1="1103.5" x2="1964" y2="1103.5" stroke="#c0c0c0" stroke-width="1" stroke-dasharray="3 3" shape-rendering="crispEdges"/>
<path d="M1965 1103.5 h4" stroke="#000" stroke-width="1" fill="none" shape-rendering="crispEdges"/>
<line x1="3" y1="1131.5" x2="1964" y2="1131.5" stroke="#c0c0c0" stroke-width="1" stroke-dasharray="3 3" shape-rendering="crispEdges"/>
<path d="M1965 1131.5 h4" stroke="#000" stroke-width="1" fill="none" shape-rendering="crispEdges"/>
<line x1="3" y1="1159.5" x2="1964" y2="1159.5" stroke="#c0c0c0" stroke-width="1" stroke-dasharray="3 3" shape-rendering="crispEdges"/>
<path d="M1965 1159.5 h4" stroke="#000" stroke-width="1" fill="none" shape-rendering="crispEdges"/>
<line x1="3" y1="1216.5" x2="1964" y2="1216.5" stroke="#c0c0c0" stroke-width="1" stroke-dasharray="3 3" shape-rendering="crispEdges"/>
<path d="M1965 1216.5 h4" stroke="#000" stroke-width="1" fill="none" shape-rendering="crispEdges"/>
<line x1="3" y1="1259.5" x2="1964" y2="1259.5" stroke="#c0c0c0" stroke-width="1" stroke-dasharray="3 3" shape-rendering="crispEdges"/>
<path d="M1965 1259.5 h4" stroke="#000" stroke-width="1" fill="none" shape-rendering="crispEdges"/>
<path d="M1965 1062.5 h4 M1965 1200.5 h4 M1965 1202.5 h4 M1965 1273.5 h4" stroke="#000" stroke-width="1" fill="none" shape-rendering="crispEdges"/>
<g clip-path="url(#cpRsi)"><polyline points="2.5,1126.8 10.5,1124.1 18.5,1121.4 26.5,1118.3 34.5,1117.2 42.5,1115.4 50.5,1109.2 58.5,1103.7 66.5,1107.0 74.5,1106.1 82.5,1099.3 90.5,1100.2 98.5,1099.6 106.5,1096.2 114.5,1096.4 122.5,1095.0 130.5,1102.8 138.5,1110.4 146.5,1109.9 154.5,1105.9 162.5,1102.8 170.5,1137.1 178.5,1144.0 186.5,1142.2 194.5,1138.9 202.5,1152.9 210.5,1142.0 218.5,1141.7 226.5,1144.3 234.5,1152.7 242.5,1160.2 250.5,1159.4 258.5,1160.1 266.5,1157.2 274.5,1163.3 282.5,1171.8 290.5,1173.3 298.5,1179.1 306.5,1182.5 314.5,1181.2 322.5,1162.8 330.5,1159.2 338.5,1161.0 346.5,1156.6 354.5,1157.9 362.5,1154.0 370.5,1141.2 378.5,1148.1 386.5,1151.8 394.5,1156.0 402.5,1156.4 410.5,1148.7 418.5,1155.2 426.5,1154.3 434.5,1156.4 442.5,1151.7 450.5,1148.8 458.5,1141.1 466.5,1136.5 474.5,1143.4 482.5,1150.4 490.5,1151.6 498.5,1155.9 506.5,1149.4 514.5,1152.3 522.5,1152.6 530.5,1154.8 538.5,1158.4 546.5,1159.2 554.5,1145.1 562.5,1145.8 570.5,1143.0 578.5,1134.4 586.5,1136.1 594.5,1138.4 602.5,1128.0 610.5,1127.7 618.5,1143.0 626.5,1134.0 634.5,1134.3 642.5,1119.4 650.5,1117.5 658.5,1110.8 666.5,1113.9 674.5,1113.8 682.5,1109.3 690.5,1114.7 698.5,1112.2 706.5,1109.6 714.5,1113.8 722.5,1111.8 730.5,1109.3 738.5,1115.6 746.5,1109.1 754.5,1108.1 762.5,1101.6 770.5,1109.4 778.5,1107.3 786.5,1105.0 794.5,1103.5 802.5,1103.1 810.5,1103.7 818.5,1115.6 826.5,1111.2 834.5,1117.7 842.5,1122.0 850.5,1107.2 858.5,1119.2 866.5,1121.3 874.5,1116.1 882.5,1112.4 890.5,1108.9 898.5,1105.9 906.5,1119.3 914.5,1117.8 922.5,1117.9 930.5,1114.3 938.5,1120.6 946.5,1119.8 954.5,1123.5 962.5,1131.1 970.5,1142.1 978.5,1139.2 986.5,1148.1 994.5,1148.3 1002.5,1148.1 1010.5,1140.9 1018.5,1143.8 1026.5,1144.1 1034.5,1135.1 1042.5,1129.7 1050.5,1126.6 1058.5,1125.3 1066.5,1119.1 1074.5,1116.3 1082.5,1122.5 1090.5,1115.2 1098.5,1103.3 1106.5,1111.0 1114.5,1108.4 1122.5,1107.6 1130.5,1104.9 1138.5,1106.5 1146.5,1114.7 1154.5,1111.9 1162.5,1111.4 1170.5,1113.4 1178.5,1111.6 1186.5,1109.0 1194.5,1107.3 1202.5,1110.7 1210.5,1114.6 1218.5,1117.3 1226.5,1113.6 1234.5,1128.7 1242.5,1138.8 1250.5,1129.5 1258.5,1134.9 1266.5,1135.8 1274.5,1127.8 1282.5,1131.1 1290.5,1131.9 1298.5,1141.9 1306.5,1133.9 1314.5,1136.2 1322.5,1142.0 1330.5,1134.6 1338.5,1138.1 1346.5,1140.5 1354.5,1150.4 1362.5,1156.1 1370.5,1155.2 1378.5,1149.9 1386.5,1145.5 1394.5,1131.4 1402.5,1140.6 1410.5,1143.2 1418.5,1147.2 1426.5,1142.7 1434.5,1145.9 1442.5,1154.2 1450.5,1155.6 1458.5,1152.1 1466.5,1155.0 1474.5,1152.5" fill="none" stroke="#1e90ff" stroke-width="1" shape-rendering="crispEdges"/></g>
<g clip-path="url(#cpSt)"><polyline points="2.5,1216.5 10.5,1216.2 18.5,1218.0 26.5,1220.9 34.5,1221.7 42.5,1218.4 50.5,1214.5 58.5,1209.5 66.5,1207.7 74.5,1207.3 82.5,1208.5 90.5,1208.3 98.5,1207.8 106.5,1208.3 114.5,1210.3 122.5,1211.7 130.5,1214.7 138.5,1221.8 146.5,1233.1 154.5,1241.7 162.5,1240.6 170.5,1237.8 178.5,1239.7 186.5,1249.3 194.5,1256.8 202.5,1260.8 210.5,1260.1 218.5,1257.0 226.5,1248.2 234.5,1244.8 242.5,1246.9 250.5,1254.1 258.5,1256.3 266.5,1253.2 274.5,1250.8 282.5,1252.4 290.5,1258.0 298.5,1264.0 306.5,1266.3 314.5,1265.5 322.5,1260.2 330.5,1252.4 338.5,1240.4 346.5,1229.7 354.5,1222.6 362.5,1221.4 370.5,1221.1 378.5,1222.2 386.5,1225.7 394.5,1237.8 402.5,1250.6 410.5,1259.5 418.5,1260.5 426.5,1258.2 434.5,1258.4 442.5,1257.0 450.5,1255.1 458.5,1244.8 466.5,1232.2 474.5,1221.7 482.5,1224.8 490.5,1238.7 498.5,1255.3 506.5,1262.7 514.5,1263.5 522.5,1258.6 530.5,1255.0 538.5,1251.5 546.5,1252.7 554.5,1250.7 562.5,1244.2 570.5,1231.9 578.5,1222.6 586.5,1217.8 594.5,1217.4 602.5,1217.4 610.5,1216.8 618.5,1221.9 626.5,1231.0 634.5,1243.7 642.5,1242.8 650.5,1233.8 658.5,1217.7 666.5,1210.2 674.5,1207.9 682.5,1210.0 690.5,1211.7 698.5,1212.8 706.5,1214.5 714.5,1215.8 722.5,1217.1 730.5,1217.6 738.5,1218.6 746.5,1218.1 754.5,1217.1 762.5,1212.6 770.5,1212.4 778.5,1213.4 786.5,1217.4 794.5,1217.5 802.5,1216.6 810.5,1216.2 818.5,1221.9 826.5,1230.0 834.5,1241.4 842.5,1248.1 850.5,1247.0 858.5,1240.2 866.5,1232.5 874.5,1232.5 882.5,1230.2 890.5,1224.5 898.5,1214.5 906.5,1212.2 914.5,1218.3 922.5,1231.4 930.5,1238.7 938.5,1242.3 946.5,1239.9 954.5,1241.2 962.5,1245.0 970.5,1253.2 978.5,1259.5 986.5,1263.4 994.5,1264.4 1002.5,1265.2 1010.5,1262.2 1018.5,1255.6 1026.5,1245.7 1034.5,1236.7 1042.5,1227.3 1050.5,1218.3 1058.5,1211.8 1066.5,1208.5 1074.5,1207.8 1082.5,1209.1 1090.5,1211.3 1098.5,1213.1 1106.5,1213.3 1114.5,1213.7 1122.5,1215.3 1130.5,1214.5 1138.5,1212.7 1146.5,1213.2 1154.5,1219.5 1162.5,1227.7 1170.5,1230.7 1178.5,1229.0 1186.5,1224.6 1194.5,1219.8 1202.5,1215.8 1210.5,1215.5 1218.5,1222.2 1226.5,1231.1 1234.5,1241.5 1242.5,1250.5 1250.5,1257.2 1258.5,1260.2 1266.5,1258.4 1274.5,1255.0 1282.5,1248.0 1290.5,1237.8 1298.5,1235.0 1306.5,1235.5 1314.5,1241.4 1322.5,1241.9 1330.5,1242.9 1338.5,1244.1 1346.5,1243.9 1354.5,1248.1 1362.5,1255.0 1370.5,1263.4 1378.5,1266.2 1386.5,1262.9 1394.5,1252.7 1402.5,1241.0 1410.5,1233.4 1418.5,1238.8 1426.5,1248.5 1434.5,1259.0 1442.5,1262.8 1450.5,1265.7 1458.5,1265.3 1466.5,1264.5 1474.5,1261.4" fill="none" stroke="#ff0000" stroke-width="1" stroke-dasharray="3 3" shape-rendering="crispEdges"/>
<polyline points="2.5,1213.0 10.5,1218.0 18.5,1223.0 26.5,1221.6 34.5,1220.5 42.5,1212.7 50.5,1210.4 58.5,1205.3 66.5,1207.3 74.5,1209.3 82.5,1209.0 90.5,1206.6 98.5,1207.9 106.5,1210.5 114.5,1212.5 122.5,1212.2 130.5,1219.4 138.5,1233.7 146.5,1246.1 154.5,1245.3 162.5,1230.2 170.5,1237.8 178.5,1250.9 186.5,1259.1 194.5,1260.3 202.5,1263.1 210.5,1257.0 218.5,1251.0 226.5,1236.8 234.5,1246.6 242.5,1257.4 250.5,1258.3 258.5,1253.3 266.5,1248.1 274.5,1251.1 282.5,1258.1 290.5,1264.9 298.5,1268.9 306.5,1265.0 314.5,1262.7 322.5,1252.8 330.5,1241.6 338.5,1226.7 346.5,1220.7 354.5,1220.4 362.5,1223.3 370.5,1219.5 378.5,1223.9 386.5,1233.8 394.5,1255.7 402.5,1262.2 410.5,1260.5 418.5,1258.8 426.5,1255.2 434.5,1261.1 442.5,1254.6 450.5,1249.5 458.5,1230.3 466.5,1216.7 474.5,1217.9 482.5,1239.7 490.5,1258.6 498.5,1267.6 506.5,1261.9 514.5,1261.1 522.5,1252.8 530.5,1250.9 538.5,1250.9 546.5,1256.2 554.5,1245.2 562.5,1231.3 570.5,1219.2 578.5,1217.2 586.5,1217.0 594.5,1218.0 602.5,1217.3 610.5,1215.0 618.5,1233.3 626.5,1244.6 634.5,1253.2 642.5,1230.7 650.5,1217.4 658.5,1205.0 666.5,1208.2 674.5,1210.5 682.5,1211.2 690.5,1213.3 698.5,1213.8 706.5,1216.4 714.5,1217.4 722.5,1217.5 730.5,1217.8 738.5,1220.7 746.5,1215.8 754.5,1214.9 762.5,1207.1 770.5,1215.2 778.5,1217.8 786.5,1219.1 794.5,1215.6 802.5,1215.1 810.5,1218.0 818.5,1232.6 826.5,1239.2 834.5,1252.4 842.5,1252.5 850.5,1235.9 858.5,1232.2 866.5,1229.4 874.5,1236.0 882.5,1225.4 890.5,1212.1 898.5,1206.0 906.5,1218.6 914.5,1230.4 922.5,1245.2 930.5,1240.5 938.5,1241.1 946.5,1237.9 954.5,1244.5 962.5,1252.7 970.5,1262.5 978.5,1263.2 986.5,1264.5 994.5,1265.4 1002.5,1265.9 1010.5,1255.4 1018.5,1245.5 1026.5,1236.2 1034.5,1228.4 1042.5,1217.4 1050.5,1209.2 1058.5,1208.7 1066.5,1207.5 1074.5,1207.1 1082.5,1212.7 1090.5,1214.1 1098.5,1212.4 1106.5,1213.5 1114.5,1215.1 1122.5,1217.2 1130.5,1211.1 1138.5,1209.8 1146.5,1218.7 1154.5,1230.1 1162.5,1234.4 1170.5,1227.7 1178.5,1225.0 1186.5,1221.0 1194.5,1213.5 1202.5,1213.0 1210.5,1220.1 1218.5,1233.6 1226.5,1239.7 1234.5,1251.3 1242.5,1260.4 1250.5,1260.1 1258.5,1260.1 1266.5,1255.2 1274.5,1249.8 1282.5,1239.0 1290.5,1224.5 1298.5,1241.4 1306.5,1240.7 1314.5,1241.9 1322.5,1243.1 1330.5,1243.8 1338.5,1245.4 1346.5,1242.6 1354.5,1256.3 1362.5,1265.9 1370.5,1267.8 1378.5,1264.9 1386.5,1256.1 1394.5,1237.1 1402.5,1230.0 1410.5,1233.3 1418.5,1253.0 1426.5,1259.1 1434.5,1264.9 1442.5,1264.5 1450.5,1267.8 1458.5,1263.5 1466.5,1262.1 1474.5,1258.5" fill="none" stroke="#20b2aa" stroke-width="1" shape-rendering="crispEdges"/></g>
<g font-size="12.6" fill="#000"><text x="1970.2" y="1073.5">100.00</text><text x="1970.2" y="1107.5">70.00</text><text x="1970.2" y="1135.5">50.00</text><text x="1970.2" y="1163.5">30.00</text><text x="1970.2" y="1197.5">0.00</text><text x="1970.2" y="1214.0">100.00</text><text x="1970.2" y="1221.0">80.00</text><text x="1970.2" y="1263.0">20.00</text><text x="1970.2" y="1270.5">0.00</text></g>
<path d="M2.5 1274 v5 M130.5 1274 v5 M258.5 1274 v5 M386.5 1274 v5 M514.5 1274 v5 M642.5 1274 v5 M770.5 1274 v5 M898.5 1274 v5 M1026.5 1274 v5 M1154.5 1274 v5 M1282.5 1274 v5 M1410.5 1274 v5" stroke="#000" stroke-width="1" fill="none" shape-rendering="crispEdges"/>
<g font-size="12.4" fill="#000"><text x="2.0" y="1288.5">12 Jun 2024</text><text x="129.5" y="1288.5">4 Jul 2024</text><text x="257.5" y="1288.5">26 Jul 2024</text><text x="385.5" y="1288.5">19 Aug 2024</text><text x="513.5" y="1288.5">10 Sep 2024</text><text x="641.5" y="1288.5">2 Oct 2024</text><text x="769.5" y="1288.5">24 Oct 2024</text><text x="897.5" y="1288.5">14 Nov 2024</text><text x="1025.5" y="1288.5">6 Dec 2024</text><text x="1153.5" y="1288.5">31 Dec 2024</text><text x="1281.5" y="1288.5">23 Jan 2025</text><text x="1409.5" y="1288.5">14 Feb 2025</text></g>
<text x="6.7" y="15.4" font-size="11.83" fill="#000" textLength="231.3" lengthAdjust="spacingAndGlyphs">USDJPY, Daily:  US Dollar vs Japanese Yen</text>
<text x="4.4" y="1077.8" font-size="12.73" fill="#000" textLength="79.2" lengthAdjust="spacingAndGlyphs">RSI(14) 34.68</text>
<rect x="5" y="1206.5" width="144.5" height="13.5" fill="#fff"/>
<text x="4.8" y="1217.2" font-size="12.68" fill="#000" textLength="144.0" lengthAdjust="spacingAndGlyphs">Stoch(5,3,3) 20.61 16.58</text>
<text x="138.2" y="69.6" font-size="23.42" fill="#000" stroke="#000" stroke-width="0.26" textLength="219.6" lengthAdjust="spacingAndGlyphs">161.94 (38-year high)</text>
<text x="721.3" y="123.8" font-size="47.82" fill="#000" stroke="#000" stroke-width="0.53" textLength="457.6" lengthAdjust="spacingAndGlyphs">USDJPY - Daily Chart</text>
<text x="1178.2" y="202.5" font-size="23.71" fill="#000" stroke="#000" stroke-width="0.26" textLength="71.1" lengthAdjust="spacingAndGlyphs">158.86</text>
<text x="361.9" y="407.5" font-size="23.33" fill="#ff8c00" stroke="#ff8c00" stroke-width="0.26" textLength="82.6" lengthAdjust="spacingAndGlyphs">50-EMA</text>
<text x="1153.6" y="556.2" font-size="23.53" fill="#9400d3" stroke="#9400d3" stroke-width="0.26" textLength="96.2" lengthAdjust="spacingAndGlyphs">200-EMA</text>
<text x="697.7" y="743.2" font-size="23.48" fill="#008080" stroke="#008080" stroke-width="0.26" textLength="83.2" lengthAdjust="spacingAndGlyphs">20-EMA</text>
<clipPath id="cp20"><rect x="690" y="715" width="100" height="40"/></clipPath>
<g clip-path="url(#cp20)" shape-rendering="crispEdges"><line x1="2" y1="830.5" x2="1964" y2="590.4" stroke="#000" stroke-width="1"/><line x1="547" y1="977" x2="1211" y2="213" stroke="#a0a0a0" stroke-width="1"/></g>
<text x="458.2" y="1000.3" font-size="23.09" fill="#000" stroke="#000" stroke-width="0.25" textLength="226.5" lengthAdjust="spacingAndGlyphs">139.56 (14-month low)</text>
<text x="1658.3" y="390.4" font-size="23.41" fill="#f00" stroke="#f00" stroke-width="0.26" textLength="208.0" lengthAdjust="spacingAndGlyphs">154.30 (23.6% Fibo)</text>
<text x="1690.2" y="440.4" font-size="23.39" fill="#f00" stroke="#f00" stroke-width="0.26" textLength="70.1" lengthAdjust="spacingAndGlyphs">153.00</text>
<text x="1690.2" y="479.8" font-size="23.39" fill="#f00" stroke="#f00" stroke-width="0.26" textLength="70.1" lengthAdjust="spacingAndGlyphs">152.00</text>
<text x="1642.3" y="506.6" font-size="23.46" fill="#f00" stroke="#f00" stroke-width="0.26" textLength="208.4" lengthAdjust="spacingAndGlyphs">151.50 (38.2% Fibo)</text>
<text x="1618.8" y="592.7" font-size="23.51" fill="#000" stroke="#000" stroke-width="0.26" textLength="267.9" lengthAdjust="spacingAndGlyphs">149.00-149.50 (50% Fibo)</text>
<text x="1706.7" y="641.0" font-size="23.36" fill="#008000" stroke="#008000" stroke-width="0.26" textLength="70.0" lengthAdjust="spacingAndGlyphs">148.00</text>
<text x="1603.2" y="697.8" font-size="23.47" fill="#008000" stroke="#008000" stroke-width="0.26" textLength="286.5" lengthAdjust="spacingAndGlyphs">146.45-146.94 (61.8% Fibo)</text>
<text x="1674.8" y="769.9" font-size="23.56" fill="#008000" stroke="#008000" stroke-width="0.26" textLength="149.0" lengthAdjust="spacingAndGlyphs">144.70-145.00</text>
<text x="1512.9" y="1136.4" font-size="20.14" fill="#000" stroke="#000" stroke-width="0.22" textLength="398.4" lengthAdjust="spacingAndGlyphs">RSI stabilizes slightly above 30 oversold level</text>
<text x="1521.4" y="1252.1" font-size="20.22" fill="#000" stroke="#000" stroke-width="0.22" textLength="385.7" lengthAdjust="spacingAndGlyphs">Stochastics turn up, below 20 oversold level</text>
</svg>
</body></html>
